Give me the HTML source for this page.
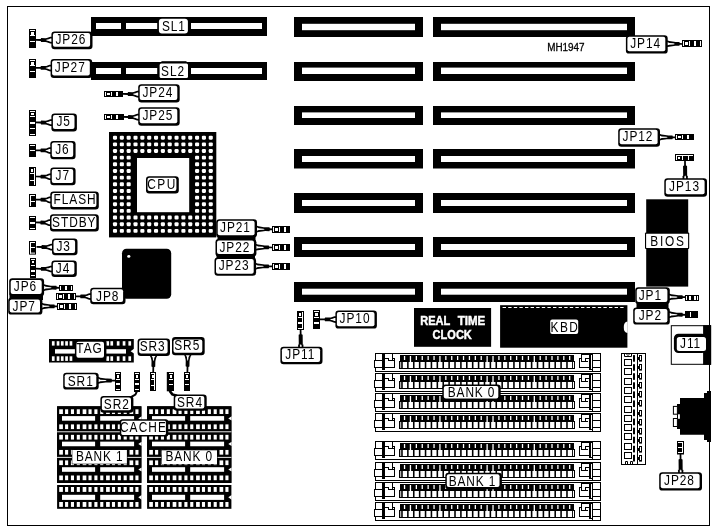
<!DOCTYPE html>
<html><head><meta charset="utf-8"><title>MH1947 motherboard layout</title>
<style>
html,body{margin:0;padding:0;background:#fff;}
svg{display:block;}
text{font-family:"Liberation Sans",sans-serif;}
svg{will-change:transform;}
</style></head>
<body>
<svg width="715" height="531" viewBox="0 0 715 531">
<rect x="0" y="0" width="715" height="531" fill="#fff"/>
<rect x="7.5" y="6.5" width="702" height="519" fill="none" stroke="#000" stroke-width="1"/>
<rect x="294.00" y="17.00" width="129.00" height="20.00" fill="#000" />
<rect x="302.00" y="23.80" width="113.00" height="6.40" fill="#fff" />
<rect x="433.00" y="17.00" width="202.00" height="20.00" fill="#000" />
<rect x="441.00" y="23.80" width="186.00" height="6.40" fill="#fff" />
<rect x="294.00" y="62.00" width="129.00" height="19.00" fill="#000" />
<rect x="302.00" y="67.60" width="113.00" height="6.40" fill="#fff" />
<rect x="433.00" y="62.00" width="202.00" height="19.00" fill="#000" />
<rect x="441.00" y="67.60" width="186.00" height="6.40" fill="#fff" />
<rect x="294.00" y="106.00" width="129.00" height="19.00" fill="#000" />
<rect x="302.00" y="112.40" width="113.00" height="5.60" fill="#fff" />
<rect x="433.00" y="106.00" width="202.00" height="19.00" fill="#000" />
<rect x="441.00" y="112.40" width="186.00" height="5.60" fill="#fff" />
<rect x="294.00" y="149.00" width="129.00" height="19.50" fill="#000" />
<rect x="302.00" y="156.00" width="113.00" height="6.00" fill="#fff" />
<rect x="433.00" y="149.00" width="202.00" height="19.50" fill="#000" />
<rect x="441.00" y="156.00" width="186.00" height="6.00" fill="#fff" />
<rect x="294.00" y="193.00" width="129.00" height="20.00" fill="#000" />
<rect x="302.00" y="200.00" width="113.00" height="6.00" fill="#fff" />
<rect x="433.00" y="193.00" width="202.00" height="20.00" fill="#000" />
<rect x="441.00" y="200.00" width="186.00" height="6.00" fill="#fff" />
<rect x="294.00" y="237.00" width="129.00" height="20.00" fill="#000" />
<rect x="302.00" y="244.00" width="113.00" height="6.00" fill="#fff" />
<rect x="433.00" y="237.00" width="202.00" height="20.00" fill="#000" />
<rect x="441.00" y="244.00" width="186.00" height="6.00" fill="#fff" />
<rect x="294.00" y="282.00" width="129.00" height="20.00" fill="#000" />
<rect x="302.00" y="288.70" width="113.00" height="6.00" fill="#fff" />
<rect x="433.00" y="282.00" width="202.00" height="20.00" fill="#000" />
<rect x="441.00" y="288.70" width="186.00" height="6.00" fill="#fff" />
<rect x="91.00" y="17.00" width="176.00" height="19.00" fill="#000" />
<rect x="96.00" y="23.00" width="25.00" height="6.00" fill="#fff" />
<rect x="126.00" y="23.00" width="136.00" height="6.00" fill="#fff" />
<rect x="91.00" y="62.00" width="176.00" height="18.00" fill="#000" />
<rect x="96.00" y="68.00" width="25.00" height="6.00" fill="#fff" />
<rect x="126.00" y="68.00" width="136.00" height="6.00" fill="#fff" />
<rect x="109.00" y="132.00" width="107.30" height="105.40" fill="#000" />
<rect x="112.95" y="135.75" width="4.1" height="3.9" rx="1.1" fill="#fff"/>
<rect x="112.95" y="142.41" width="4.1" height="3.9" rx="1.1" fill="#fff"/>
<rect x="112.95" y="149.06" width="4.1" height="3.9" rx="1.1" fill="#fff"/>
<rect x="112.95" y="155.72" width="4.1" height="3.9" rx="1.1" fill="#fff"/>
<rect x="112.95" y="162.37" width="4.1" height="3.9" rx="1.1" fill="#fff"/>
<rect x="112.95" y="169.03" width="4.1" height="3.9" rx="1.1" fill="#fff"/>
<rect x="112.95" y="175.68" width="4.1" height="3.9" rx="1.1" fill="#fff"/>
<rect x="112.95" y="182.34" width="4.1" height="3.9" rx="1.1" fill="#fff"/>
<rect x="112.95" y="188.99" width="4.1" height="3.9" rx="1.1" fill="#fff"/>
<rect x="112.95" y="195.65" width="4.1" height="3.9" rx="1.1" fill="#fff"/>
<rect x="112.95" y="202.30" width="4.1" height="3.9" rx="1.1" fill="#fff"/>
<rect x="112.95" y="208.95" width="4.1" height="3.9" rx="1.1" fill="#fff"/>
<rect x="112.95" y="215.61" width="4.1" height="3.9" rx="1.1" fill="#fff"/>
<rect x="112.95" y="222.26" width="4.1" height="3.9" rx="1.1" fill="#fff"/>
<rect x="112.95" y="228.92" width="4.1" height="3.9" rx="1.1" fill="#fff"/>
<rect x="119.79" y="135.75" width="4.1" height="3.9" rx="1.1" fill="#fff"/>
<rect x="119.79" y="142.41" width="4.1" height="3.9" rx="1.1" fill="#fff"/>
<rect x="119.79" y="149.06" width="4.1" height="3.9" rx="1.1" fill="#fff"/>
<rect x="119.79" y="155.72" width="4.1" height="3.9" rx="1.1" fill="#fff"/>
<rect x="119.79" y="162.37" width="4.1" height="3.9" rx="1.1" fill="#fff"/>
<rect x="119.79" y="169.03" width="4.1" height="3.9" rx="1.1" fill="#fff"/>
<rect x="119.79" y="175.68" width="4.1" height="3.9" rx="1.1" fill="#fff"/>
<rect x="119.79" y="182.34" width="4.1" height="3.9" rx="1.1" fill="#fff"/>
<rect x="119.79" y="188.99" width="4.1" height="3.9" rx="1.1" fill="#fff"/>
<rect x="119.79" y="195.65" width="4.1" height="3.9" rx="1.1" fill="#fff"/>
<rect x="119.79" y="202.30" width="4.1" height="3.9" rx="1.1" fill="#fff"/>
<rect x="119.79" y="208.95" width="4.1" height="3.9" rx="1.1" fill="#fff"/>
<rect x="119.79" y="215.61" width="4.1" height="3.9" rx="1.1" fill="#fff"/>
<rect x="119.79" y="222.26" width="4.1" height="3.9" rx="1.1" fill="#fff"/>
<rect x="119.79" y="228.92" width="4.1" height="3.9" rx="1.1" fill="#fff"/>
<rect x="126.63" y="135.75" width="4.1" height="3.9" rx="1.1" fill="#fff"/>
<rect x="126.63" y="142.41" width="4.1" height="3.9" rx="1.1" fill="#fff"/>
<rect x="126.63" y="149.06" width="4.1" height="3.9" rx="1.1" fill="#fff"/>
<rect x="126.63" y="155.72" width="4.1" height="3.9" rx="1.1" fill="#fff"/>
<rect x="126.63" y="162.37" width="4.1" height="3.9" rx="1.1" fill="#fff"/>
<rect x="126.63" y="169.03" width="4.1" height="3.9" rx="1.1" fill="#fff"/>
<rect x="126.63" y="175.68" width="4.1" height="3.9" rx="1.1" fill="#fff"/>
<rect x="126.63" y="182.34" width="4.1" height="3.9" rx="1.1" fill="#fff"/>
<rect x="126.63" y="188.99" width="4.1" height="3.9" rx="1.1" fill="#fff"/>
<rect x="126.63" y="195.65" width="4.1" height="3.9" rx="1.1" fill="#fff"/>
<rect x="126.63" y="202.30" width="4.1" height="3.9" rx="1.1" fill="#fff"/>
<rect x="126.63" y="208.95" width="4.1" height="3.9" rx="1.1" fill="#fff"/>
<rect x="126.63" y="215.61" width="4.1" height="3.9" rx="1.1" fill="#fff"/>
<rect x="126.63" y="222.26" width="4.1" height="3.9" rx="1.1" fill="#fff"/>
<rect x="126.63" y="228.92" width="4.1" height="3.9" rx="1.1" fill="#fff"/>
<rect x="133.47" y="135.75" width="4.1" height="3.9" rx="1.1" fill="#fff"/>
<rect x="133.47" y="142.41" width="4.1" height="3.9" rx="1.1" fill="#fff"/>
<rect x="133.47" y="149.06" width="4.1" height="3.9" rx="1.1" fill="#fff"/>
<rect x="133.47" y="215.61" width="4.1" height="3.9" rx="1.1" fill="#fff"/>
<rect x="133.47" y="222.26" width="4.1" height="3.9" rx="1.1" fill="#fff"/>
<rect x="133.47" y="228.92" width="4.1" height="3.9" rx="1.1" fill="#fff"/>
<rect x="140.31" y="135.75" width="4.1" height="3.9" rx="1.1" fill="#fff"/>
<rect x="140.31" y="142.41" width="4.1" height="3.9" rx="1.1" fill="#fff"/>
<rect x="140.31" y="149.06" width="4.1" height="3.9" rx="1.1" fill="#fff"/>
<rect x="140.31" y="215.61" width="4.1" height="3.9" rx="1.1" fill="#fff"/>
<rect x="140.31" y="222.26" width="4.1" height="3.9" rx="1.1" fill="#fff"/>
<rect x="140.31" y="228.92" width="4.1" height="3.9" rx="1.1" fill="#fff"/>
<rect x="147.15" y="135.75" width="4.1" height="3.9" rx="1.1" fill="#fff"/>
<rect x="147.15" y="142.41" width="4.1" height="3.9" rx="1.1" fill="#fff"/>
<rect x="147.15" y="149.06" width="4.1" height="3.9" rx="1.1" fill="#fff"/>
<rect x="147.15" y="215.61" width="4.1" height="3.9" rx="1.1" fill="#fff"/>
<rect x="147.15" y="222.26" width="4.1" height="3.9" rx="1.1" fill="#fff"/>
<rect x="147.15" y="228.92" width="4.1" height="3.9" rx="1.1" fill="#fff"/>
<rect x="153.99" y="135.75" width="4.1" height="3.9" rx="1.1" fill="#fff"/>
<rect x="153.99" y="142.41" width="4.1" height="3.9" rx="1.1" fill="#fff"/>
<rect x="153.99" y="149.06" width="4.1" height="3.9" rx="1.1" fill="#fff"/>
<rect x="153.99" y="215.61" width="4.1" height="3.9" rx="1.1" fill="#fff"/>
<rect x="153.99" y="222.26" width="4.1" height="3.9" rx="1.1" fill="#fff"/>
<rect x="153.99" y="228.92" width="4.1" height="3.9" rx="1.1" fill="#fff"/>
<rect x="160.83" y="135.75" width="4.1" height="3.9" rx="1.1" fill="#fff"/>
<rect x="160.83" y="142.41" width="4.1" height="3.9" rx="1.1" fill="#fff"/>
<rect x="160.83" y="149.06" width="4.1" height="3.9" rx="1.1" fill="#fff"/>
<rect x="160.83" y="215.61" width="4.1" height="3.9" rx="1.1" fill="#fff"/>
<rect x="160.83" y="222.26" width="4.1" height="3.9" rx="1.1" fill="#fff"/>
<rect x="160.83" y="228.92" width="4.1" height="3.9" rx="1.1" fill="#fff"/>
<rect x="167.67" y="135.75" width="4.1" height="3.9" rx="1.1" fill="#fff"/>
<rect x="167.67" y="142.41" width="4.1" height="3.9" rx="1.1" fill="#fff"/>
<rect x="167.67" y="149.06" width="4.1" height="3.9" rx="1.1" fill="#fff"/>
<rect x="167.67" y="215.61" width="4.1" height="3.9" rx="1.1" fill="#fff"/>
<rect x="167.67" y="222.26" width="4.1" height="3.9" rx="1.1" fill="#fff"/>
<rect x="167.67" y="228.92" width="4.1" height="3.9" rx="1.1" fill="#fff"/>
<rect x="174.51" y="135.75" width="4.1" height="3.9" rx="1.1" fill="#fff"/>
<rect x="174.51" y="142.41" width="4.1" height="3.9" rx="1.1" fill="#fff"/>
<rect x="174.51" y="149.06" width="4.1" height="3.9" rx="1.1" fill="#fff"/>
<rect x="174.51" y="215.61" width="4.1" height="3.9" rx="1.1" fill="#fff"/>
<rect x="174.51" y="222.26" width="4.1" height="3.9" rx="1.1" fill="#fff"/>
<rect x="174.51" y="228.92" width="4.1" height="3.9" rx="1.1" fill="#fff"/>
<rect x="181.35" y="135.75" width="4.1" height="3.9" rx="1.1" fill="#fff"/>
<rect x="181.35" y="142.41" width="4.1" height="3.9" rx="1.1" fill="#fff"/>
<rect x="181.35" y="149.06" width="4.1" height="3.9" rx="1.1" fill="#fff"/>
<rect x="181.35" y="215.61" width="4.1" height="3.9" rx="1.1" fill="#fff"/>
<rect x="181.35" y="222.26" width="4.1" height="3.9" rx="1.1" fill="#fff"/>
<rect x="181.35" y="228.92" width="4.1" height="3.9" rx="1.1" fill="#fff"/>
<rect x="188.19" y="135.75" width="4.1" height="3.9" rx="1.1" fill="#fff"/>
<rect x="188.19" y="142.41" width="4.1" height="3.9" rx="1.1" fill="#fff"/>
<rect x="188.19" y="149.06" width="4.1" height="3.9" rx="1.1" fill="#fff"/>
<rect x="188.19" y="215.61" width="4.1" height="3.9" rx="1.1" fill="#fff"/>
<rect x="188.19" y="222.26" width="4.1" height="3.9" rx="1.1" fill="#fff"/>
<rect x="188.19" y="228.92" width="4.1" height="3.9" rx="1.1" fill="#fff"/>
<rect x="195.03" y="135.75" width="4.1" height="3.9" rx="1.1" fill="#fff"/>
<rect x="195.03" y="142.41" width="4.1" height="3.9" rx="1.1" fill="#fff"/>
<rect x="195.03" y="149.06" width="4.1" height="3.9" rx="1.1" fill="#fff"/>
<rect x="195.03" y="155.72" width="4.1" height="3.9" rx="1.1" fill="#fff"/>
<rect x="195.03" y="162.37" width="4.1" height="3.9" rx="1.1" fill="#fff"/>
<rect x="195.03" y="169.03" width="4.1" height="3.9" rx="1.1" fill="#fff"/>
<rect x="195.03" y="175.68" width="4.1" height="3.9" rx="1.1" fill="#fff"/>
<rect x="195.03" y="182.34" width="4.1" height="3.9" rx="1.1" fill="#fff"/>
<rect x="195.03" y="188.99" width="4.1" height="3.9" rx="1.1" fill="#fff"/>
<rect x="195.03" y="195.65" width="4.1" height="3.9" rx="1.1" fill="#fff"/>
<rect x="195.03" y="202.30" width="4.1" height="3.9" rx="1.1" fill="#fff"/>
<rect x="195.03" y="208.95" width="4.1" height="3.9" rx="1.1" fill="#fff"/>
<rect x="195.03" y="215.61" width="4.1" height="3.9" rx="1.1" fill="#fff"/>
<rect x="195.03" y="222.26" width="4.1" height="3.9" rx="1.1" fill="#fff"/>
<rect x="195.03" y="228.92" width="4.1" height="3.9" rx="1.1" fill="#fff"/>
<rect x="201.87" y="135.75" width="4.1" height="3.9" rx="1.1" fill="#fff"/>
<rect x="201.87" y="142.41" width="4.1" height="3.9" rx="1.1" fill="#fff"/>
<rect x="201.87" y="149.06" width="4.1" height="3.9" rx="1.1" fill="#fff"/>
<rect x="201.87" y="155.72" width="4.1" height="3.9" rx="1.1" fill="#fff"/>
<rect x="201.87" y="162.37" width="4.1" height="3.9" rx="1.1" fill="#fff"/>
<rect x="201.87" y="169.03" width="4.1" height="3.9" rx="1.1" fill="#fff"/>
<rect x="201.87" y="175.68" width="4.1" height="3.9" rx="1.1" fill="#fff"/>
<rect x="201.87" y="182.34" width="4.1" height="3.9" rx="1.1" fill="#fff"/>
<rect x="201.87" y="188.99" width="4.1" height="3.9" rx="1.1" fill="#fff"/>
<rect x="201.87" y="195.65" width="4.1" height="3.9" rx="1.1" fill="#fff"/>
<rect x="201.87" y="202.30" width="4.1" height="3.9" rx="1.1" fill="#fff"/>
<rect x="201.87" y="208.95" width="4.1" height="3.9" rx="1.1" fill="#fff"/>
<rect x="201.87" y="215.61" width="4.1" height="3.9" rx="1.1" fill="#fff"/>
<rect x="201.87" y="222.26" width="4.1" height="3.9" rx="1.1" fill="#fff"/>
<rect x="201.87" y="228.92" width="4.1" height="3.9" rx="1.1" fill="#fff"/>
<rect x="208.71" y="135.75" width="4.1" height="3.9" rx="1.1" fill="#fff"/>
<rect x="208.71" y="142.41" width="4.1" height="3.9" rx="1.1" fill="#fff"/>
<rect x="208.71" y="149.06" width="4.1" height="3.9" rx="1.1" fill="#fff"/>
<rect x="208.71" y="155.72" width="4.1" height="3.9" rx="1.1" fill="#fff"/>
<rect x="208.71" y="162.37" width="4.1" height="3.9" rx="1.1" fill="#fff"/>
<rect x="208.71" y="169.03" width="4.1" height="3.9" rx="1.1" fill="#fff"/>
<rect x="208.71" y="175.68" width="4.1" height="3.9" rx="1.1" fill="#fff"/>
<rect x="208.71" y="182.34" width="4.1" height="3.9" rx="1.1" fill="#fff"/>
<rect x="208.71" y="188.99" width="4.1" height="3.9" rx="1.1" fill="#fff"/>
<rect x="208.71" y="195.65" width="4.1" height="3.9" rx="1.1" fill="#fff"/>
<rect x="208.71" y="202.30" width="4.1" height="3.9" rx="1.1" fill="#fff"/>
<rect x="208.71" y="208.95" width="4.1" height="3.9" rx="1.1" fill="#fff"/>
<rect x="208.71" y="215.61" width="4.1" height="3.9" rx="1.1" fill="#fff"/>
<rect x="208.71" y="222.26" width="4.1" height="3.9" rx="1.1" fill="#fff"/>
<rect x="208.71" y="228.92" width="4.1" height="3.9" rx="1.1" fill="#fff"/>
<rect x="137.00" y="158.00" width="52.20" height="54.20" fill="#fff" />
<rect x="122" y="248.7" width="49.2" height="50" rx="4.5" fill="#000"/>
<ellipse cx="128.8" cy="256.4" rx="1.6" ry="1.3" fill="#fff"/>
<rect x="646.20" y="199.30" width="42.00" height="87.30" fill="#000" />
<rect x="414.00" y="308.00" width="77.10" height="38.80" fill="#000" />
<g stroke="#fff" stroke-width="0.45">
<text transform="translate(435.20,325.00) scale(0.92,1)" text-anchor="middle" font-size="12" letter-spacing="0" fill="#fff" font-weight="bold">REAL</text>
<text transform="translate(471.40,325.00) scale(0.96,1)" text-anchor="middle" font-size="12" letter-spacing="0" fill="#fff" font-weight="bold">TIME</text>
<text transform="translate(452.20,338.80) scale(0.92,1)" text-anchor="middle" font-size="12" letter-spacing="0" fill="#fff" font-weight="bold">CLOCK</text>
</g>
<rect x="500.10" y="305.20" width="127.30" height="42.50" fill="#000" />
<line x1="502.6" y1="307.5" x2="625.5" y2="307.5" stroke="#fff" stroke-width="1" stroke-dasharray="3.4 2.2"/>
<path d="M627.6 321.5 Q623.6 322 623.8 327.2 Q623.6 332.5 627.6 333 Z" fill="#fff"/>
<rect x="550.2" y="319.4" width="28" height="14.6" rx="2" fill="#fff"/>
<text transform="translate(564.88,331.90) scale(0.85,1)" text-anchor="middle" font-size="14" letter-spacing="1.6" fill="#000" font-weight="normal">KBD</text>
<g stroke="#000" stroke-width="0.3">
<text transform="translate(565.90,50.80) scale(0.9,1)" text-anchor="middle" font-size="11" letter-spacing="0" fill="#000" font-weight="normal">MH1947</text>
</g>
<rect x="49.00" y="339.00" width="84.80" height="23.50" fill="#000" />
<rect x="51.90" y="341.20" width="2.70" height="4.40" fill="#fff" />
<rect x="51.90" y="356.30" width="2.70" height="4.60" fill="#fff" />
<rect x="56.70" y="341.20" width="2.70" height="4.40" fill="#fff" />
<rect x="56.70" y="356.30" width="2.70" height="4.60" fill="#fff" />
<rect x="60.90" y="341.20" width="2.70" height="4.40" fill="#fff" />
<rect x="60.90" y="356.30" width="2.70" height="4.60" fill="#fff" />
<rect x="65.20" y="341.20" width="2.70" height="4.40" fill="#fff" />
<rect x="65.20" y="356.30" width="2.70" height="4.60" fill="#fff" />
<rect x="69.60" y="341.20" width="2.70" height="4.40" fill="#fff" />
<rect x="69.60" y="356.30" width="2.70" height="4.60" fill="#fff" />
<rect x="106.40" y="341.20" width="2.70" height="4.40" fill="#fff" />
<rect x="106.40" y="356.30" width="2.70" height="4.60" fill="#fff" />
<rect x="110.40" y="341.20" width="2.70" height="4.40" fill="#fff" />
<rect x="110.40" y="356.30" width="2.70" height="4.60" fill="#fff" />
<rect x="116.80" y="341.20" width="2.70" height="4.40" fill="#fff" />
<rect x="116.80" y="356.30" width="2.70" height="4.60" fill="#fff" />
<rect x="122.70" y="341.20" width="2.70" height="4.40" fill="#fff" />
<rect x="122.70" y="356.30" width="2.70" height="4.60" fill="#fff" />
<rect x="128.40" y="341.20" width="2.70" height="4.40" fill="#fff" />
<rect x="128.40" y="356.30" width="2.70" height="4.60" fill="#fff" />
<rect x="55.00" y="349.20" width="71.00" height="4.40" fill="#fff" />
<polygon points="134,348.8 130.6,351.2 134,353.4" fill="#fff"/>
<rect x="57.10" y="406.30" width="84.30" height="76.70" fill="#000" />
<rect x="57.10" y="406.30" width="84.30" height="25.50" fill="#000" />
<rect x="59.20" y="409.30" width="3.70" height="4.70" fill="#fff" />
<rect x="59.20" y="424.40" width="3.70" height="4.70" fill="#fff" />
<rect x="65.06" y="409.30" width="3.10" height="4.70" fill="#fff" />
<rect x="65.06" y="424.40" width="3.10" height="4.70" fill="#fff" />
<rect x="70.92" y="409.30" width="3.10" height="4.70" fill="#fff" />
<rect x="70.92" y="424.40" width="3.10" height="4.70" fill="#fff" />
<rect x="76.78" y="409.30" width="3.10" height="4.70" fill="#fff" />
<rect x="76.78" y="424.40" width="3.10" height="4.70" fill="#fff" />
<rect x="82.64" y="409.30" width="3.70" height="4.70" fill="#fff" />
<rect x="82.64" y="424.40" width="3.70" height="4.70" fill="#fff" />
<rect x="88.50" y="409.30" width="3.10" height="4.70" fill="#fff" />
<rect x="88.50" y="424.40" width="3.10" height="4.70" fill="#fff" />
<rect x="94.36" y="409.30" width="3.10" height="4.70" fill="#fff" />
<rect x="94.36" y="424.40" width="3.10" height="4.70" fill="#fff" />
<rect x="100.22" y="409.30" width="3.10" height="4.70" fill="#fff" />
<rect x="100.22" y="424.40" width="3.10" height="4.70" fill="#fff" />
<rect x="106.08" y="409.30" width="3.70" height="4.70" fill="#fff" />
<rect x="106.08" y="424.40" width="3.70" height="4.70" fill="#fff" />
<rect x="111.94" y="409.30" width="3.10" height="4.70" fill="#fff" />
<rect x="111.94" y="424.40" width="3.10" height="4.70" fill="#fff" />
<rect x="117.80" y="409.30" width="3.10" height="4.70" fill="#fff" />
<rect x="117.80" y="424.40" width="3.10" height="4.70" fill="#fff" />
<rect x="123.66" y="409.30" width="3.10" height="4.70" fill="#fff" />
<rect x="123.66" y="424.40" width="3.10" height="4.70" fill="#fff" />
<rect x="129.52" y="409.30" width="3.70" height="4.70" fill="#fff" />
<rect x="129.52" y="424.40" width="3.70" height="4.70" fill="#fff" />
<rect x="135.38" y="409.30" width="3.10" height="4.70" fill="#fff" />
<rect x="135.38" y="424.40" width="3.10" height="4.70" fill="#fff" />
<rect x="62.00" y="416.10" width="33.10" height="4.60" fill="#fff" />
<rect x="100.20" y="416.10" width="33.90" height="4.60" fill="#fff" />
<polygon points="141.60,416.30 138.30,418.40 141.60,420.50" fill="#fff"/>
<rect x="57.10" y="431.85" width="84.30" height="25.50" fill="#000" />
<rect x="59.20" y="434.85" width="3.70" height="4.70" fill="#fff" />
<rect x="59.20" y="449.95" width="3.70" height="4.70" fill="#fff" />
<rect x="65.06" y="434.85" width="3.10" height="4.70" fill="#fff" />
<rect x="65.06" y="449.95" width="3.10" height="4.70" fill="#fff" />
<rect x="70.92" y="434.85" width="3.10" height="4.70" fill="#fff" />
<rect x="70.92" y="449.95" width="3.10" height="4.70" fill="#fff" />
<rect x="76.78" y="434.85" width="3.10" height="4.70" fill="#fff" />
<rect x="76.78" y="449.95" width="3.10" height="4.70" fill="#fff" />
<rect x="82.64" y="434.85" width="3.70" height="4.70" fill="#fff" />
<rect x="82.64" y="449.95" width="3.70" height="4.70" fill="#fff" />
<rect x="88.50" y="434.85" width="3.10" height="4.70" fill="#fff" />
<rect x="88.50" y="449.95" width="3.10" height="4.70" fill="#fff" />
<rect x="94.36" y="434.85" width="3.10" height="4.70" fill="#fff" />
<rect x="94.36" y="449.95" width="3.10" height="4.70" fill="#fff" />
<rect x="100.22" y="434.85" width="3.10" height="4.70" fill="#fff" />
<rect x="100.22" y="449.95" width="3.10" height="4.70" fill="#fff" />
<rect x="106.08" y="434.85" width="3.70" height="4.70" fill="#fff" />
<rect x="106.08" y="449.95" width="3.70" height="4.70" fill="#fff" />
<rect x="111.94" y="434.85" width="3.10" height="4.70" fill="#fff" />
<rect x="111.94" y="449.95" width="3.10" height="4.70" fill="#fff" />
<rect x="117.80" y="434.85" width="3.10" height="4.70" fill="#fff" />
<rect x="117.80" y="449.95" width="3.10" height="4.70" fill="#fff" />
<rect x="123.66" y="434.85" width="3.10" height="4.70" fill="#fff" />
<rect x="123.66" y="449.95" width="3.10" height="4.70" fill="#fff" />
<rect x="129.52" y="434.85" width="3.70" height="4.70" fill="#fff" />
<rect x="129.52" y="449.95" width="3.70" height="4.70" fill="#fff" />
<rect x="135.38" y="434.85" width="3.10" height="4.70" fill="#fff" />
<rect x="135.38" y="449.95" width="3.10" height="4.70" fill="#fff" />
<rect x="62.00" y="441.65" width="33.10" height="4.60" fill="#fff" />
<rect x="100.20" y="441.65" width="33.90" height="4.60" fill="#fff" />
<polygon points="141.60,441.85 138.30,443.95 141.60,446.05" fill="#fff"/>
<rect x="57.10" y="457.40" width="84.30" height="25.50" fill="#000" />
<rect x="59.20" y="460.40" width="3.70" height="4.70" fill="#fff" />
<rect x="59.20" y="475.50" width="3.70" height="4.70" fill="#fff" />
<rect x="65.06" y="460.40" width="3.10" height="4.70" fill="#fff" />
<rect x="65.06" y="475.50" width="3.10" height="4.70" fill="#fff" />
<rect x="70.92" y="460.40" width="3.10" height="4.70" fill="#fff" />
<rect x="70.92" y="475.50" width="3.10" height="4.70" fill="#fff" />
<rect x="76.78" y="460.40" width="3.10" height="4.70" fill="#fff" />
<rect x="76.78" y="475.50" width="3.10" height="4.70" fill="#fff" />
<rect x="82.64" y="460.40" width="3.70" height="4.70" fill="#fff" />
<rect x="82.64" y="475.50" width="3.70" height="4.70" fill="#fff" />
<rect x="88.50" y="460.40" width="3.10" height="4.70" fill="#fff" />
<rect x="88.50" y="475.50" width="3.10" height="4.70" fill="#fff" />
<rect x="94.36" y="460.40" width="3.10" height="4.70" fill="#fff" />
<rect x="94.36" y="475.50" width="3.10" height="4.70" fill="#fff" />
<rect x="100.22" y="460.40" width="3.10" height="4.70" fill="#fff" />
<rect x="100.22" y="475.50" width="3.10" height="4.70" fill="#fff" />
<rect x="106.08" y="460.40" width="3.70" height="4.70" fill="#fff" />
<rect x="106.08" y="475.50" width="3.70" height="4.70" fill="#fff" />
<rect x="111.94" y="460.40" width="3.10" height="4.70" fill="#fff" />
<rect x="111.94" y="475.50" width="3.10" height="4.70" fill="#fff" />
<rect x="117.80" y="460.40" width="3.10" height="4.70" fill="#fff" />
<rect x="117.80" y="475.50" width="3.10" height="4.70" fill="#fff" />
<rect x="123.66" y="460.40" width="3.10" height="4.70" fill="#fff" />
<rect x="123.66" y="475.50" width="3.10" height="4.70" fill="#fff" />
<rect x="129.52" y="460.40" width="3.70" height="4.70" fill="#fff" />
<rect x="129.52" y="475.50" width="3.70" height="4.70" fill="#fff" />
<rect x="135.38" y="460.40" width="3.10" height="4.70" fill="#fff" />
<rect x="135.38" y="475.50" width="3.10" height="4.70" fill="#fff" />
<rect x="62.00" y="467.20" width="33.10" height="4.60" fill="#fff" />
<rect x="100.20" y="467.20" width="33.90" height="4.60" fill="#fff" />
<polygon points="141.60,467.40 138.30,469.50 141.60,471.60" fill="#fff"/>
<rect x="57.10" y="431.35" width="84.30" height="0.90" fill="#fff" />
<rect x="57.10" y="456.90" width="84.30" height="0.90" fill="#fff" />
<rect x="57.10" y="485.00" width="84.30" height="23.80" fill="#000" />
<rect x="59.20" y="487.00" width="3.70" height="4.90" fill="#fff" />
<rect x="59.20" y="502.00" width="3.70" height="4.90" fill="#fff" />
<rect x="65.06" y="487.00" width="3.10" height="4.90" fill="#fff" />
<rect x="65.06" y="502.00" width="3.10" height="4.90" fill="#fff" />
<rect x="70.92" y="487.00" width="3.10" height="4.90" fill="#fff" />
<rect x="70.92" y="502.00" width="3.10" height="4.90" fill="#fff" />
<rect x="76.78" y="487.00" width="3.10" height="4.90" fill="#fff" />
<rect x="76.78" y="502.00" width="3.10" height="4.90" fill="#fff" />
<rect x="82.64" y="487.00" width="3.70" height="4.90" fill="#fff" />
<rect x="82.64" y="502.00" width="3.70" height="4.90" fill="#fff" />
<rect x="88.50" y="487.00" width="3.10" height="4.90" fill="#fff" />
<rect x="88.50" y="502.00" width="3.10" height="4.90" fill="#fff" />
<rect x="94.36" y="487.00" width="3.10" height="4.90" fill="#fff" />
<rect x="94.36" y="502.00" width="3.10" height="4.90" fill="#fff" />
<rect x="100.22" y="487.00" width="3.10" height="4.90" fill="#fff" />
<rect x="100.22" y="502.00" width="3.10" height="4.90" fill="#fff" />
<rect x="106.08" y="487.00" width="3.70" height="4.90" fill="#fff" />
<rect x="106.08" y="502.00" width="3.70" height="4.90" fill="#fff" />
<rect x="111.94" y="487.00" width="3.10" height="4.90" fill="#fff" />
<rect x="111.94" y="502.00" width="3.10" height="4.90" fill="#fff" />
<rect x="117.80" y="487.00" width="3.10" height="4.90" fill="#fff" />
<rect x="117.80" y="502.00" width="3.10" height="4.90" fill="#fff" />
<rect x="123.66" y="487.00" width="3.10" height="4.90" fill="#fff" />
<rect x="123.66" y="502.00" width="3.10" height="4.90" fill="#fff" />
<rect x="129.52" y="487.00" width="3.70" height="4.90" fill="#fff" />
<rect x="129.52" y="502.00" width="3.70" height="4.90" fill="#fff" />
<rect x="135.38" y="487.00" width="3.10" height="4.90" fill="#fff" />
<rect x="135.38" y="502.00" width="3.10" height="4.90" fill="#fff" />
<rect x="62.00" y="494.80" width="33.10" height="5.10" fill="#fff" />
<rect x="100.20" y="494.80" width="33.90" height="5.10" fill="#fff" />
<polygon points="141.60,495.00 138.30,497.35 141.60,499.70" fill="#fff"/>
<rect x="147.10" y="406.30" width="84.30" height="76.70" fill="#000" />
<rect x="147.10" y="406.30" width="84.30" height="25.50" fill="#000" />
<rect x="149.20" y="409.30" width="3.70" height="4.70" fill="#fff" />
<rect x="149.20" y="424.40" width="3.70" height="4.70" fill="#fff" />
<rect x="155.06" y="409.30" width="3.10" height="4.70" fill="#fff" />
<rect x="155.06" y="424.40" width="3.10" height="4.70" fill="#fff" />
<rect x="160.92" y="409.30" width="3.10" height="4.70" fill="#fff" />
<rect x="160.92" y="424.40" width="3.10" height="4.70" fill="#fff" />
<rect x="166.78" y="409.30" width="3.10" height="4.70" fill="#fff" />
<rect x="166.78" y="424.40" width="3.10" height="4.70" fill="#fff" />
<rect x="172.64" y="409.30" width="3.70" height="4.70" fill="#fff" />
<rect x="172.64" y="424.40" width="3.70" height="4.70" fill="#fff" />
<rect x="178.50" y="409.30" width="3.10" height="4.70" fill="#fff" />
<rect x="178.50" y="424.40" width="3.10" height="4.70" fill="#fff" />
<rect x="184.36" y="409.30" width="3.10" height="4.70" fill="#fff" />
<rect x="184.36" y="424.40" width="3.10" height="4.70" fill="#fff" />
<rect x="190.22" y="409.30" width="3.10" height="4.70" fill="#fff" />
<rect x="190.22" y="424.40" width="3.10" height="4.70" fill="#fff" />
<rect x="196.08" y="409.30" width="3.70" height="4.70" fill="#fff" />
<rect x="196.08" y="424.40" width="3.70" height="4.70" fill="#fff" />
<rect x="201.94" y="409.30" width="3.10" height="4.70" fill="#fff" />
<rect x="201.94" y="424.40" width="3.10" height="4.70" fill="#fff" />
<rect x="207.80" y="409.30" width="3.10" height="4.70" fill="#fff" />
<rect x="207.80" y="424.40" width="3.10" height="4.70" fill="#fff" />
<rect x="213.66" y="409.30" width="3.10" height="4.70" fill="#fff" />
<rect x="213.66" y="424.40" width="3.10" height="4.70" fill="#fff" />
<rect x="219.52" y="409.30" width="3.70" height="4.70" fill="#fff" />
<rect x="219.52" y="424.40" width="3.70" height="4.70" fill="#fff" />
<rect x="225.38" y="409.30" width="3.10" height="4.70" fill="#fff" />
<rect x="225.38" y="424.40" width="3.10" height="4.70" fill="#fff" />
<rect x="152.00" y="416.10" width="33.10" height="4.60" fill="#fff" />
<rect x="190.20" y="416.10" width="33.90" height="4.60" fill="#fff" />
<polygon points="231.60,416.30 228.30,418.40 231.60,420.50" fill="#fff"/>
<rect x="147.10" y="431.85" width="84.30" height="25.50" fill="#000" />
<rect x="149.20" y="434.85" width="3.70" height="4.70" fill="#fff" />
<rect x="149.20" y="449.95" width="3.70" height="4.70" fill="#fff" />
<rect x="155.06" y="434.85" width="3.10" height="4.70" fill="#fff" />
<rect x="155.06" y="449.95" width="3.10" height="4.70" fill="#fff" />
<rect x="160.92" y="434.85" width="3.10" height="4.70" fill="#fff" />
<rect x="160.92" y="449.95" width="3.10" height="4.70" fill="#fff" />
<rect x="166.78" y="434.85" width="3.10" height="4.70" fill="#fff" />
<rect x="166.78" y="449.95" width="3.10" height="4.70" fill="#fff" />
<rect x="172.64" y="434.85" width="3.70" height="4.70" fill="#fff" />
<rect x="172.64" y="449.95" width="3.70" height="4.70" fill="#fff" />
<rect x="178.50" y="434.85" width="3.10" height="4.70" fill="#fff" />
<rect x="178.50" y="449.95" width="3.10" height="4.70" fill="#fff" />
<rect x="184.36" y="434.85" width="3.10" height="4.70" fill="#fff" />
<rect x="184.36" y="449.95" width="3.10" height="4.70" fill="#fff" />
<rect x="190.22" y="434.85" width="3.10" height="4.70" fill="#fff" />
<rect x="190.22" y="449.95" width="3.10" height="4.70" fill="#fff" />
<rect x="196.08" y="434.85" width="3.70" height="4.70" fill="#fff" />
<rect x="196.08" y="449.95" width="3.70" height="4.70" fill="#fff" />
<rect x="201.94" y="434.85" width="3.10" height="4.70" fill="#fff" />
<rect x="201.94" y="449.95" width="3.10" height="4.70" fill="#fff" />
<rect x="207.80" y="434.85" width="3.10" height="4.70" fill="#fff" />
<rect x="207.80" y="449.95" width="3.10" height="4.70" fill="#fff" />
<rect x="213.66" y="434.85" width="3.10" height="4.70" fill="#fff" />
<rect x="213.66" y="449.95" width="3.10" height="4.70" fill="#fff" />
<rect x="219.52" y="434.85" width="3.70" height="4.70" fill="#fff" />
<rect x="219.52" y="449.95" width="3.70" height="4.70" fill="#fff" />
<rect x="225.38" y="434.85" width="3.10" height="4.70" fill="#fff" />
<rect x="225.38" y="449.95" width="3.10" height="4.70" fill="#fff" />
<rect x="152.00" y="441.65" width="33.10" height="4.60" fill="#fff" />
<rect x="190.20" y="441.65" width="33.90" height="4.60" fill="#fff" />
<polygon points="231.60,441.85 228.30,443.95 231.60,446.05" fill="#fff"/>
<rect x="147.10" y="457.40" width="84.30" height="25.50" fill="#000" />
<rect x="149.20" y="460.40" width="3.70" height="4.70" fill="#fff" />
<rect x="149.20" y="475.50" width="3.70" height="4.70" fill="#fff" />
<rect x="155.06" y="460.40" width="3.10" height="4.70" fill="#fff" />
<rect x="155.06" y="475.50" width="3.10" height="4.70" fill="#fff" />
<rect x="160.92" y="460.40" width="3.10" height="4.70" fill="#fff" />
<rect x="160.92" y="475.50" width="3.10" height="4.70" fill="#fff" />
<rect x="166.78" y="460.40" width="3.10" height="4.70" fill="#fff" />
<rect x="166.78" y="475.50" width="3.10" height="4.70" fill="#fff" />
<rect x="172.64" y="460.40" width="3.70" height="4.70" fill="#fff" />
<rect x="172.64" y="475.50" width="3.70" height="4.70" fill="#fff" />
<rect x="178.50" y="460.40" width="3.10" height="4.70" fill="#fff" />
<rect x="178.50" y="475.50" width="3.10" height="4.70" fill="#fff" />
<rect x="184.36" y="460.40" width="3.10" height="4.70" fill="#fff" />
<rect x="184.36" y="475.50" width="3.10" height="4.70" fill="#fff" />
<rect x="190.22" y="460.40" width="3.10" height="4.70" fill="#fff" />
<rect x="190.22" y="475.50" width="3.10" height="4.70" fill="#fff" />
<rect x="196.08" y="460.40" width="3.70" height="4.70" fill="#fff" />
<rect x="196.08" y="475.50" width="3.70" height="4.70" fill="#fff" />
<rect x="201.94" y="460.40" width="3.10" height="4.70" fill="#fff" />
<rect x="201.94" y="475.50" width="3.10" height="4.70" fill="#fff" />
<rect x="207.80" y="460.40" width="3.10" height="4.70" fill="#fff" />
<rect x="207.80" y="475.50" width="3.10" height="4.70" fill="#fff" />
<rect x="213.66" y="460.40" width="3.10" height="4.70" fill="#fff" />
<rect x="213.66" y="475.50" width="3.10" height="4.70" fill="#fff" />
<rect x="219.52" y="460.40" width="3.70" height="4.70" fill="#fff" />
<rect x="219.52" y="475.50" width="3.70" height="4.70" fill="#fff" />
<rect x="225.38" y="460.40" width="3.10" height="4.70" fill="#fff" />
<rect x="225.38" y="475.50" width="3.10" height="4.70" fill="#fff" />
<rect x="152.00" y="467.20" width="33.10" height="4.60" fill="#fff" />
<rect x="190.20" y="467.20" width="33.90" height="4.60" fill="#fff" />
<polygon points="231.60,467.40 228.30,469.50 231.60,471.60" fill="#fff"/>
<rect x="147.10" y="431.35" width="84.30" height="0.90" fill="#fff" />
<rect x="147.10" y="456.90" width="84.30" height="0.90" fill="#fff" />
<rect x="147.10" y="485.00" width="84.30" height="23.80" fill="#000" />
<rect x="149.20" y="487.00" width="3.70" height="4.90" fill="#fff" />
<rect x="149.20" y="502.00" width="3.70" height="4.90" fill="#fff" />
<rect x="155.06" y="487.00" width="3.10" height="4.90" fill="#fff" />
<rect x="155.06" y="502.00" width="3.10" height="4.90" fill="#fff" />
<rect x="160.92" y="487.00" width="3.10" height="4.90" fill="#fff" />
<rect x="160.92" y="502.00" width="3.10" height="4.90" fill="#fff" />
<rect x="166.78" y="487.00" width="3.10" height="4.90" fill="#fff" />
<rect x="166.78" y="502.00" width="3.10" height="4.90" fill="#fff" />
<rect x="172.64" y="487.00" width="3.70" height="4.90" fill="#fff" />
<rect x="172.64" y="502.00" width="3.70" height="4.90" fill="#fff" />
<rect x="178.50" y="487.00" width="3.10" height="4.90" fill="#fff" />
<rect x="178.50" y="502.00" width="3.10" height="4.90" fill="#fff" />
<rect x="184.36" y="487.00" width="3.10" height="4.90" fill="#fff" />
<rect x="184.36" y="502.00" width="3.10" height="4.90" fill="#fff" />
<rect x="190.22" y="487.00" width="3.10" height="4.90" fill="#fff" />
<rect x="190.22" y="502.00" width="3.10" height="4.90" fill="#fff" />
<rect x="196.08" y="487.00" width="3.70" height="4.90" fill="#fff" />
<rect x="196.08" y="502.00" width="3.70" height="4.90" fill="#fff" />
<rect x="201.94" y="487.00" width="3.10" height="4.90" fill="#fff" />
<rect x="201.94" y="502.00" width="3.10" height="4.90" fill="#fff" />
<rect x="207.80" y="487.00" width="3.10" height="4.90" fill="#fff" />
<rect x="207.80" y="502.00" width="3.10" height="4.90" fill="#fff" />
<rect x="213.66" y="487.00" width="3.10" height="4.90" fill="#fff" />
<rect x="213.66" y="502.00" width="3.10" height="4.90" fill="#fff" />
<rect x="219.52" y="487.00" width="3.70" height="4.90" fill="#fff" />
<rect x="219.52" y="502.00" width="3.70" height="4.90" fill="#fff" />
<rect x="225.38" y="487.00" width="3.10" height="4.90" fill="#fff" />
<rect x="225.38" y="502.00" width="3.10" height="4.90" fill="#fff" />
<rect x="152.00" y="494.80" width="33.10" height="5.10" fill="#fff" />
<rect x="190.20" y="494.80" width="33.90" height="5.10" fill="#fff" />
<polygon points="231.60,495.00 228.30,497.35 231.60,499.70" fill="#fff"/>
<rect x="375.00" y="353.00" width="226.00" height="19.00" fill="#000" />
<rect x="376.00" y="354.00" width="224.00" height="17.00" fill="#fff" />
<rect x="374.00" y="360.00" width="9.00" height="8.00" fill="#000" />
<rect x="375.00" y="361.00" width="7.00" height="6.00" fill="#fff" />
<rect x="382.00" y="354.00" width="3.00" height="16.00" fill="#000" />
<rect x="392.00" y="353.00" width="1.00" height="8.00" fill="#000" />
<rect x="385.00" y="358.00" width="4.00" height="1.00" fill="#000" />
<rect x="388.00" y="358.00" width="1.00" height="3.00" fill="#000" />
<rect x="388.00" y="360.00" width="6.00" height="1.00" fill="#000" />
<rect x="392.00" y="358.00" width="3.00" height="1.00" fill="#000" />
<rect x="394.00" y="358.00" width="1.00" height="10.00" fill="#000" />
<rect x="385.00" y="367.00" width="10.00" height="1.00" fill="#000" />
<rect x="592.00" y="353.00" width="1.00" height="19.00" fill="#000" />
<rect x="592.00" y="360.00" width="9.00" height="1.00" fill="#000" />
<rect x="592.00" y="367.00" width="9.00" height="1.00" fill="#000" />
<rect x="589.00" y="353.00" width="2.00" height="17.00" fill="#000" />
<rect x="589.00" y="369.00" width="4.00" height="1.00" fill="#000" />
<rect x="581.00" y="354.00" width="11.00" height="1.00" fill="#000" />
<rect x="581.00" y="353.00" width="1.00" height="9.00" fill="#000" />
<rect x="585.00" y="358.00" width="4.00" height="1.00" fill="#000" />
<rect x="585.00" y="358.00" width="1.00" height="4.00" fill="#000" />
<rect x="581.00" y="361.00" width="7.00" height="1.00" fill="#000" />
<rect x="579.00" y="358.00" width="3.00" height="1.00" fill="#000" />
<rect x="579.00" y="358.00" width="1.00" height="10.00" fill="#000" />
<rect x="579.00" y="367.00" width="11.00" height="1.00" fill="#000" />
<rect x="400.00" y="355.00" width="174.00" height="7.00" fill="#000" />
<rect x="399.00" y="361.00" width="176.00" height="8.00" fill="#000" />
<rect x="402.76" y="362.00" width="4.32" height="6.00" fill="#fff" />
<rect x="403.90" y="356.00" width="1.30" height="4.00" fill="#fff" />
<rect x="408.65" y="362.00" width="4.32" height="6.00" fill="#fff" />
<rect x="409.80" y="356.00" width="1.30" height="6.50" fill="#fff" />
<rect x="414.55" y="362.00" width="4.32" height="6.00" fill="#fff" />
<rect x="415.70" y="356.00" width="1.30" height="4.00" fill="#fff" />
<rect x="420.44" y="362.00" width="4.32" height="6.00" fill="#fff" />
<rect x="421.59" y="356.00" width="1.30" height="4.00" fill="#fff" />
<rect x="426.33" y="362.00" width="4.32" height="6.00" fill="#fff" />
<rect x="427.49" y="356.00" width="1.30" height="4.00" fill="#fff" />
<rect x="432.22" y="362.00" width="4.32" height="6.00" fill="#fff" />
<rect x="433.39" y="356.00" width="1.30" height="4.00" fill="#fff" />
<rect x="438.12" y="362.00" width="4.32" height="6.00" fill="#fff" />
<rect x="439.29" y="356.00" width="1.30" height="6.50" fill="#fff" />
<rect x="444.01" y="362.00" width="4.32" height="6.00" fill="#fff" />
<rect x="445.19" y="356.00" width="1.30" height="4.00" fill="#fff" />
<rect x="449.90" y="362.00" width="4.32" height="6.00" fill="#fff" />
<rect x="451.08" y="356.00" width="1.30" height="4.00" fill="#fff" />
<rect x="455.80" y="362.00" width="4.32" height="6.00" fill="#fff" />
<rect x="456.98" y="356.00" width="1.30" height="4.00" fill="#fff" />
<rect x="461.69" y="362.00" width="4.32" height="6.00" fill="#fff" />
<rect x="462.88" y="356.00" width="1.30" height="4.00" fill="#fff" />
<rect x="467.58" y="362.00" width="4.32" height="6.00" fill="#fff" />
<rect x="468.78" y="356.00" width="1.30" height="4.00" fill="#fff" />
<rect x="473.48" y="362.00" width="4.32" height="6.00" fill="#fff" />
<rect x="474.68" y="356.00" width="1.30" height="4.00" fill="#fff" />
<rect x="479.37" y="362.00" width="4.32" height="6.00" fill="#fff" />
<rect x="480.57" y="356.00" width="1.30" height="4.00" fill="#fff" />
<rect x="485.26" y="362.00" width="4.32" height="6.00" fill="#fff" />
<rect x="486.47" y="356.00" width="1.30" height="6.50" fill="#fff" />
<rect x="491.15" y="362.00" width="4.32" height="6.00" fill="#fff" />
<rect x="492.37" y="356.00" width="1.30" height="6.50" fill="#fff" />
<rect x="497.05" y="362.00" width="4.32" height="6.00" fill="#fff" />
<rect x="498.27" y="356.00" width="1.30" height="4.00" fill="#fff" />
<rect x="502.94" y="362.00" width="4.32" height="6.00" fill="#fff" />
<rect x="504.17" y="356.00" width="1.30" height="4.00" fill="#fff" />
<rect x="508.83" y="362.00" width="4.32" height="6.00" fill="#fff" />
<rect x="510.06" y="356.00" width="1.30" height="4.00" fill="#fff" />
<rect x="514.73" y="362.00" width="4.32" height="6.00" fill="#fff" />
<rect x="515.96" y="356.00" width="1.30" height="4.00" fill="#fff" />
<rect x="520.62" y="362.00" width="4.32" height="6.00" fill="#fff" />
<rect x="521.86" y="356.00" width="1.30" height="4.00" fill="#fff" />
<rect x="526.51" y="362.00" width="4.32" height="6.00" fill="#fff" />
<rect x="527.76" y="356.00" width="1.30" height="4.00" fill="#fff" />
<rect x="532.41" y="362.00" width="4.32" height="6.00" fill="#fff" />
<rect x="533.66" y="356.00" width="1.30" height="6.50" fill="#fff" />
<rect x="538.30" y="362.00" width="4.32" height="6.00" fill="#fff" />
<rect x="539.55" y="356.00" width="1.30" height="4.00" fill="#fff" />
<rect x="544.19" y="362.00" width="4.32" height="6.00" fill="#fff" />
<rect x="545.45" y="356.00" width="1.30" height="4.00" fill="#fff" />
<rect x="550.09" y="362.00" width="4.32" height="6.00" fill="#fff" />
<rect x="551.35" y="356.00" width="1.30" height="4.00" fill="#fff" />
<rect x="555.98" y="362.00" width="4.32" height="6.00" fill="#fff" />
<rect x="557.25" y="356.00" width="1.30" height="4.00" fill="#fff" />
<rect x="561.87" y="362.00" width="4.32" height="6.00" fill="#fff" />
<rect x="563.15" y="356.00" width="1.30" height="4.00" fill="#fff" />
<rect x="567.76" y="362.00" width="4.32" height="6.00" fill="#fff" />
<rect x="569.04" y="356.00" width="1.30" height="4.00" fill="#fff" />
<rect x="400.30" y="362.00" width="0.90" height="6.00" fill="#fff" />
<rect x="573.00" y="362.00" width="1.00" height="6.00" fill="#fff" />
<rect x="375.00" y="373.00" width="226.00" height="19.00" fill="#000" />
<rect x="376.00" y="374.00" width="224.00" height="17.00" fill="#fff" />
<rect x="374.00" y="380.00" width="9.00" height="8.00" fill="#000" />
<rect x="375.00" y="381.00" width="7.00" height="6.00" fill="#fff" />
<rect x="382.00" y="374.00" width="3.00" height="16.00" fill="#000" />
<rect x="392.00" y="373.00" width="1.00" height="8.00" fill="#000" />
<rect x="385.00" y="378.00" width="4.00" height="1.00" fill="#000" />
<rect x="388.00" y="378.00" width="1.00" height="3.00" fill="#000" />
<rect x="388.00" y="380.00" width="6.00" height="1.00" fill="#000" />
<rect x="392.00" y="378.00" width="3.00" height="1.00" fill="#000" />
<rect x="394.00" y="378.00" width="1.00" height="10.00" fill="#000" />
<rect x="385.00" y="387.00" width="10.00" height="1.00" fill="#000" />
<rect x="592.00" y="373.00" width="1.00" height="19.00" fill="#000" />
<rect x="592.00" y="380.00" width="9.00" height="1.00" fill="#000" />
<rect x="592.00" y="387.00" width="9.00" height="1.00" fill="#000" />
<rect x="589.00" y="373.00" width="2.00" height="17.00" fill="#000" />
<rect x="589.00" y="389.00" width="4.00" height="1.00" fill="#000" />
<rect x="581.00" y="374.00" width="11.00" height="1.00" fill="#000" />
<rect x="581.00" y="373.00" width="1.00" height="9.00" fill="#000" />
<rect x="585.00" y="378.00" width="4.00" height="1.00" fill="#000" />
<rect x="585.00" y="378.00" width="1.00" height="4.00" fill="#000" />
<rect x="581.00" y="381.00" width="7.00" height="1.00" fill="#000" />
<rect x="579.00" y="378.00" width="3.00" height="1.00" fill="#000" />
<rect x="579.00" y="378.00" width="1.00" height="10.00" fill="#000" />
<rect x="579.00" y="387.00" width="11.00" height="1.00" fill="#000" />
<rect x="400.00" y="375.00" width="174.00" height="7.00" fill="#000" />
<rect x="399.00" y="381.00" width="176.00" height="8.00" fill="#000" />
<rect x="402.76" y="382.00" width="4.32" height="6.00" fill="#fff" />
<rect x="403.90" y="376.00" width="1.30" height="4.00" fill="#fff" />
<rect x="408.65" y="382.00" width="4.32" height="6.00" fill="#fff" />
<rect x="409.80" y="376.00" width="1.30" height="6.50" fill="#fff" />
<rect x="414.55" y="382.00" width="4.32" height="6.00" fill="#fff" />
<rect x="415.70" y="376.00" width="1.30" height="4.00" fill="#fff" />
<rect x="420.44" y="382.00" width="4.32" height="6.00" fill="#fff" />
<rect x="421.59" y="376.00" width="1.30" height="4.00" fill="#fff" />
<rect x="426.33" y="382.00" width="4.32" height="6.00" fill="#fff" />
<rect x="427.49" y="376.00" width="1.30" height="4.00" fill="#fff" />
<rect x="432.22" y="382.00" width="4.32" height="6.00" fill="#fff" />
<rect x="433.39" y="376.00" width="1.30" height="4.00" fill="#fff" />
<rect x="438.12" y="382.00" width="4.32" height="6.00" fill="#fff" />
<rect x="439.29" y="376.00" width="1.30" height="6.50" fill="#fff" />
<rect x="444.01" y="382.00" width="4.32" height="6.00" fill="#fff" />
<rect x="445.19" y="376.00" width="1.30" height="4.00" fill="#fff" />
<rect x="449.90" y="382.00" width="4.32" height="6.00" fill="#fff" />
<rect x="451.08" y="376.00" width="1.30" height="4.00" fill="#fff" />
<rect x="455.80" y="382.00" width="4.32" height="6.00" fill="#fff" />
<rect x="456.98" y="376.00" width="1.30" height="4.00" fill="#fff" />
<rect x="461.69" y="382.00" width="4.32" height="6.00" fill="#fff" />
<rect x="462.88" y="376.00" width="1.30" height="4.00" fill="#fff" />
<rect x="467.58" y="382.00" width="4.32" height="6.00" fill="#fff" />
<rect x="468.78" y="376.00" width="1.30" height="4.00" fill="#fff" />
<rect x="473.48" y="382.00" width="4.32" height="6.00" fill="#fff" />
<rect x="474.68" y="376.00" width="1.30" height="4.00" fill="#fff" />
<rect x="479.37" y="382.00" width="4.32" height="6.00" fill="#fff" />
<rect x="480.57" y="376.00" width="1.30" height="4.00" fill="#fff" />
<rect x="485.26" y="382.00" width="4.32" height="6.00" fill="#fff" />
<rect x="486.47" y="376.00" width="1.30" height="6.50" fill="#fff" />
<rect x="491.15" y="382.00" width="4.32" height="6.00" fill="#fff" />
<rect x="492.37" y="376.00" width="1.30" height="6.50" fill="#fff" />
<rect x="497.05" y="382.00" width="4.32" height="6.00" fill="#fff" />
<rect x="498.27" y="376.00" width="1.30" height="4.00" fill="#fff" />
<rect x="502.94" y="382.00" width="4.32" height="6.00" fill="#fff" />
<rect x="504.17" y="376.00" width="1.30" height="4.00" fill="#fff" />
<rect x="508.83" y="382.00" width="4.32" height="6.00" fill="#fff" />
<rect x="510.06" y="376.00" width="1.30" height="4.00" fill="#fff" />
<rect x="514.73" y="382.00" width="4.32" height="6.00" fill="#fff" />
<rect x="515.96" y="376.00" width="1.30" height="4.00" fill="#fff" />
<rect x="520.62" y="382.00" width="4.32" height="6.00" fill="#fff" />
<rect x="521.86" y="376.00" width="1.30" height="4.00" fill="#fff" />
<rect x="526.51" y="382.00" width="4.32" height="6.00" fill="#fff" />
<rect x="527.76" y="376.00" width="1.30" height="4.00" fill="#fff" />
<rect x="532.41" y="382.00" width="4.32" height="6.00" fill="#fff" />
<rect x="533.66" y="376.00" width="1.30" height="6.50" fill="#fff" />
<rect x="538.30" y="382.00" width="4.32" height="6.00" fill="#fff" />
<rect x="539.55" y="376.00" width="1.30" height="4.00" fill="#fff" />
<rect x="544.19" y="382.00" width="4.32" height="6.00" fill="#fff" />
<rect x="545.45" y="376.00" width="1.30" height="4.00" fill="#fff" />
<rect x="550.09" y="382.00" width="4.32" height="6.00" fill="#fff" />
<rect x="551.35" y="376.00" width="1.30" height="4.00" fill="#fff" />
<rect x="555.98" y="382.00" width="4.32" height="6.00" fill="#fff" />
<rect x="557.25" y="376.00" width="1.30" height="4.00" fill="#fff" />
<rect x="561.87" y="382.00" width="4.32" height="6.00" fill="#fff" />
<rect x="563.15" y="376.00" width="1.30" height="4.00" fill="#fff" />
<rect x="567.76" y="382.00" width="4.32" height="6.00" fill="#fff" />
<rect x="569.04" y="376.00" width="1.30" height="4.00" fill="#fff" />
<rect x="400.30" y="382.00" width="0.90" height="6.00" fill="#fff" />
<rect x="573.00" y="382.00" width="1.00" height="6.00" fill="#fff" />
<rect x="375.00" y="393.00" width="226.00" height="19.00" fill="#000" />
<rect x="376.00" y="394.00" width="224.00" height="17.00" fill="#fff" />
<rect x="374.00" y="400.00" width="9.00" height="8.00" fill="#000" />
<rect x="375.00" y="401.00" width="7.00" height="6.00" fill="#fff" />
<rect x="382.00" y="394.00" width="3.00" height="16.00" fill="#000" />
<rect x="392.00" y="393.00" width="1.00" height="8.00" fill="#000" />
<rect x="385.00" y="398.00" width="4.00" height="1.00" fill="#000" />
<rect x="388.00" y="398.00" width="1.00" height="3.00" fill="#000" />
<rect x="388.00" y="400.00" width="6.00" height="1.00" fill="#000" />
<rect x="392.00" y="398.00" width="3.00" height="1.00" fill="#000" />
<rect x="394.00" y="398.00" width="1.00" height="10.00" fill="#000" />
<rect x="385.00" y="407.00" width="10.00" height="1.00" fill="#000" />
<rect x="592.00" y="393.00" width="1.00" height="19.00" fill="#000" />
<rect x="592.00" y="400.00" width="9.00" height="1.00" fill="#000" />
<rect x="592.00" y="407.00" width="9.00" height="1.00" fill="#000" />
<rect x="589.00" y="393.00" width="2.00" height="17.00" fill="#000" />
<rect x="589.00" y="409.00" width="4.00" height="1.00" fill="#000" />
<rect x="581.00" y="394.00" width="11.00" height="1.00" fill="#000" />
<rect x="581.00" y="393.00" width="1.00" height="9.00" fill="#000" />
<rect x="585.00" y="398.00" width="4.00" height="1.00" fill="#000" />
<rect x="585.00" y="398.00" width="1.00" height="4.00" fill="#000" />
<rect x="581.00" y="401.00" width="7.00" height="1.00" fill="#000" />
<rect x="579.00" y="398.00" width="3.00" height="1.00" fill="#000" />
<rect x="579.00" y="398.00" width="1.00" height="10.00" fill="#000" />
<rect x="579.00" y="407.00" width="11.00" height="1.00" fill="#000" />
<rect x="400.00" y="395.00" width="174.00" height="7.00" fill="#000" />
<rect x="399.00" y="401.00" width="176.00" height="8.00" fill="#000" />
<rect x="402.76" y="402.00" width="4.32" height="6.00" fill="#fff" />
<rect x="403.90" y="396.00" width="1.30" height="4.00" fill="#fff" />
<rect x="408.65" y="402.00" width="4.32" height="6.00" fill="#fff" />
<rect x="409.80" y="396.00" width="1.30" height="6.50" fill="#fff" />
<rect x="414.55" y="402.00" width="4.32" height="6.00" fill="#fff" />
<rect x="415.70" y="396.00" width="1.30" height="4.00" fill="#fff" />
<rect x="420.44" y="402.00" width="4.32" height="6.00" fill="#fff" />
<rect x="421.59" y="396.00" width="1.30" height="4.00" fill="#fff" />
<rect x="426.33" y="402.00" width="4.32" height="6.00" fill="#fff" />
<rect x="427.49" y="396.00" width="1.30" height="4.00" fill="#fff" />
<rect x="432.22" y="402.00" width="4.32" height="6.00" fill="#fff" />
<rect x="433.39" y="396.00" width="1.30" height="4.00" fill="#fff" />
<rect x="438.12" y="402.00" width="4.32" height="6.00" fill="#fff" />
<rect x="439.29" y="396.00" width="1.30" height="6.50" fill="#fff" />
<rect x="444.01" y="402.00" width="4.32" height="6.00" fill="#fff" />
<rect x="445.19" y="396.00" width="1.30" height="4.00" fill="#fff" />
<rect x="449.90" y="402.00" width="4.32" height="6.00" fill="#fff" />
<rect x="451.08" y="396.00" width="1.30" height="4.00" fill="#fff" />
<rect x="455.80" y="402.00" width="4.32" height="6.00" fill="#fff" />
<rect x="456.98" y="396.00" width="1.30" height="4.00" fill="#fff" />
<rect x="461.69" y="402.00" width="4.32" height="6.00" fill="#fff" />
<rect x="462.88" y="396.00" width="1.30" height="4.00" fill="#fff" />
<rect x="467.58" y="402.00" width="4.32" height="6.00" fill="#fff" />
<rect x="468.78" y="396.00" width="1.30" height="4.00" fill="#fff" />
<rect x="473.48" y="402.00" width="4.32" height="6.00" fill="#fff" />
<rect x="474.68" y="396.00" width="1.30" height="4.00" fill="#fff" />
<rect x="479.37" y="402.00" width="4.32" height="6.00" fill="#fff" />
<rect x="480.57" y="396.00" width="1.30" height="4.00" fill="#fff" />
<rect x="485.26" y="402.00" width="4.32" height="6.00" fill="#fff" />
<rect x="486.47" y="396.00" width="1.30" height="6.50" fill="#fff" />
<rect x="491.15" y="402.00" width="4.32" height="6.00" fill="#fff" />
<rect x="492.37" y="396.00" width="1.30" height="6.50" fill="#fff" />
<rect x="497.05" y="402.00" width="4.32" height="6.00" fill="#fff" />
<rect x="498.27" y="396.00" width="1.30" height="4.00" fill="#fff" />
<rect x="502.94" y="402.00" width="4.32" height="6.00" fill="#fff" />
<rect x="504.17" y="396.00" width="1.30" height="4.00" fill="#fff" />
<rect x="508.83" y="402.00" width="4.32" height="6.00" fill="#fff" />
<rect x="510.06" y="396.00" width="1.30" height="4.00" fill="#fff" />
<rect x="514.73" y="402.00" width="4.32" height="6.00" fill="#fff" />
<rect x="515.96" y="396.00" width="1.30" height="4.00" fill="#fff" />
<rect x="520.62" y="402.00" width="4.32" height="6.00" fill="#fff" />
<rect x="521.86" y="396.00" width="1.30" height="4.00" fill="#fff" />
<rect x="526.51" y="402.00" width="4.32" height="6.00" fill="#fff" />
<rect x="527.76" y="396.00" width="1.30" height="4.00" fill="#fff" />
<rect x="532.41" y="402.00" width="4.32" height="6.00" fill="#fff" />
<rect x="533.66" y="396.00" width="1.30" height="6.50" fill="#fff" />
<rect x="538.30" y="402.00" width="4.32" height="6.00" fill="#fff" />
<rect x="539.55" y="396.00" width="1.30" height="4.00" fill="#fff" />
<rect x="544.19" y="402.00" width="4.32" height="6.00" fill="#fff" />
<rect x="545.45" y="396.00" width="1.30" height="4.00" fill="#fff" />
<rect x="550.09" y="402.00" width="4.32" height="6.00" fill="#fff" />
<rect x="551.35" y="396.00" width="1.30" height="4.00" fill="#fff" />
<rect x="555.98" y="402.00" width="4.32" height="6.00" fill="#fff" />
<rect x="557.25" y="396.00" width="1.30" height="4.00" fill="#fff" />
<rect x="561.87" y="402.00" width="4.32" height="6.00" fill="#fff" />
<rect x="563.15" y="396.00" width="1.30" height="4.00" fill="#fff" />
<rect x="567.76" y="402.00" width="4.32" height="6.00" fill="#fff" />
<rect x="569.04" y="396.00" width="1.30" height="4.00" fill="#fff" />
<rect x="400.30" y="402.00" width="0.90" height="6.00" fill="#fff" />
<rect x="573.00" y="402.00" width="1.00" height="6.00" fill="#fff" />
<rect x="375.00" y="413.00" width="226.00" height="19.00" fill="#000" />
<rect x="376.00" y="414.00" width="224.00" height="17.00" fill="#fff" />
<rect x="374.00" y="420.00" width="9.00" height="8.00" fill="#000" />
<rect x="375.00" y="421.00" width="7.00" height="6.00" fill="#fff" />
<rect x="382.00" y="414.00" width="3.00" height="16.00" fill="#000" />
<rect x="392.00" y="413.00" width="1.00" height="8.00" fill="#000" />
<rect x="385.00" y="418.00" width="4.00" height="1.00" fill="#000" />
<rect x="388.00" y="418.00" width="1.00" height="3.00" fill="#000" />
<rect x="388.00" y="420.00" width="6.00" height="1.00" fill="#000" />
<rect x="392.00" y="418.00" width="3.00" height="1.00" fill="#000" />
<rect x="394.00" y="418.00" width="1.00" height="10.00" fill="#000" />
<rect x="385.00" y="427.00" width="10.00" height="1.00" fill="#000" />
<rect x="592.00" y="413.00" width="1.00" height="19.00" fill="#000" />
<rect x="592.00" y="420.00" width="9.00" height="1.00" fill="#000" />
<rect x="592.00" y="427.00" width="9.00" height="1.00" fill="#000" />
<rect x="589.00" y="413.00" width="2.00" height="17.00" fill="#000" />
<rect x="589.00" y="429.00" width="4.00" height="1.00" fill="#000" />
<rect x="581.00" y="414.00" width="11.00" height="1.00" fill="#000" />
<rect x="581.00" y="413.00" width="1.00" height="9.00" fill="#000" />
<rect x="585.00" y="418.00" width="4.00" height="1.00" fill="#000" />
<rect x="585.00" y="418.00" width="1.00" height="4.00" fill="#000" />
<rect x="581.00" y="421.00" width="7.00" height="1.00" fill="#000" />
<rect x="579.00" y="418.00" width="3.00" height="1.00" fill="#000" />
<rect x="579.00" y="418.00" width="1.00" height="10.00" fill="#000" />
<rect x="579.00" y="427.00" width="11.00" height="1.00" fill="#000" />
<rect x="400.00" y="415.00" width="174.00" height="7.00" fill="#000" />
<rect x="399.00" y="421.00" width="176.00" height="8.00" fill="#000" />
<rect x="402.76" y="422.00" width="4.32" height="6.00" fill="#fff" />
<rect x="403.90" y="416.00" width="1.30" height="4.00" fill="#fff" />
<rect x="408.65" y="422.00" width="4.32" height="6.00" fill="#fff" />
<rect x="409.80" y="416.00" width="1.30" height="6.50" fill="#fff" />
<rect x="414.55" y="422.00" width="4.32" height="6.00" fill="#fff" />
<rect x="415.70" y="416.00" width="1.30" height="4.00" fill="#fff" />
<rect x="420.44" y="422.00" width="4.32" height="6.00" fill="#fff" />
<rect x="421.59" y="416.00" width="1.30" height="4.00" fill="#fff" />
<rect x="426.33" y="422.00" width="4.32" height="6.00" fill="#fff" />
<rect x="427.49" y="416.00" width="1.30" height="4.00" fill="#fff" />
<rect x="432.22" y="422.00" width="4.32" height="6.00" fill="#fff" />
<rect x="433.39" y="416.00" width="1.30" height="4.00" fill="#fff" />
<rect x="438.12" y="422.00" width="4.32" height="6.00" fill="#fff" />
<rect x="439.29" y="416.00" width="1.30" height="6.50" fill="#fff" />
<rect x="444.01" y="422.00" width="4.32" height="6.00" fill="#fff" />
<rect x="445.19" y="416.00" width="1.30" height="4.00" fill="#fff" />
<rect x="449.90" y="422.00" width="4.32" height="6.00" fill="#fff" />
<rect x="451.08" y="416.00" width="1.30" height="4.00" fill="#fff" />
<rect x="455.80" y="422.00" width="4.32" height="6.00" fill="#fff" />
<rect x="456.98" y="416.00" width="1.30" height="4.00" fill="#fff" />
<rect x="461.69" y="422.00" width="4.32" height="6.00" fill="#fff" />
<rect x="462.88" y="416.00" width="1.30" height="4.00" fill="#fff" />
<rect x="467.58" y="422.00" width="4.32" height="6.00" fill="#fff" />
<rect x="468.78" y="416.00" width="1.30" height="4.00" fill="#fff" />
<rect x="473.48" y="422.00" width="4.32" height="6.00" fill="#fff" />
<rect x="474.68" y="416.00" width="1.30" height="4.00" fill="#fff" />
<rect x="479.37" y="422.00" width="4.32" height="6.00" fill="#fff" />
<rect x="480.57" y="416.00" width="1.30" height="4.00" fill="#fff" />
<rect x="485.26" y="422.00" width="4.32" height="6.00" fill="#fff" />
<rect x="486.47" y="416.00" width="1.30" height="6.50" fill="#fff" />
<rect x="491.15" y="422.00" width="4.32" height="6.00" fill="#fff" />
<rect x="492.37" y="416.00" width="1.30" height="6.50" fill="#fff" />
<rect x="497.05" y="422.00" width="4.32" height="6.00" fill="#fff" />
<rect x="498.27" y="416.00" width="1.30" height="4.00" fill="#fff" />
<rect x="502.94" y="422.00" width="4.32" height="6.00" fill="#fff" />
<rect x="504.17" y="416.00" width="1.30" height="4.00" fill="#fff" />
<rect x="508.83" y="422.00" width="4.32" height="6.00" fill="#fff" />
<rect x="510.06" y="416.00" width="1.30" height="4.00" fill="#fff" />
<rect x="514.73" y="422.00" width="4.32" height="6.00" fill="#fff" />
<rect x="515.96" y="416.00" width="1.30" height="4.00" fill="#fff" />
<rect x="520.62" y="422.00" width="4.32" height="6.00" fill="#fff" />
<rect x="521.86" y="416.00" width="1.30" height="4.00" fill="#fff" />
<rect x="526.51" y="422.00" width="4.32" height="6.00" fill="#fff" />
<rect x="527.76" y="416.00" width="1.30" height="4.00" fill="#fff" />
<rect x="532.41" y="422.00" width="4.32" height="6.00" fill="#fff" />
<rect x="533.66" y="416.00" width="1.30" height="6.50" fill="#fff" />
<rect x="538.30" y="422.00" width="4.32" height="6.00" fill="#fff" />
<rect x="539.55" y="416.00" width="1.30" height="4.00" fill="#fff" />
<rect x="544.19" y="422.00" width="4.32" height="6.00" fill="#fff" />
<rect x="545.45" y="416.00" width="1.30" height="4.00" fill="#fff" />
<rect x="550.09" y="422.00" width="4.32" height="6.00" fill="#fff" />
<rect x="551.35" y="416.00" width="1.30" height="4.00" fill="#fff" />
<rect x="555.98" y="422.00" width="4.32" height="6.00" fill="#fff" />
<rect x="557.25" y="416.00" width="1.30" height="4.00" fill="#fff" />
<rect x="561.87" y="422.00" width="4.32" height="6.00" fill="#fff" />
<rect x="563.15" y="416.00" width="1.30" height="4.00" fill="#fff" />
<rect x="567.76" y="422.00" width="4.32" height="6.00" fill="#fff" />
<rect x="569.04" y="416.00" width="1.30" height="4.00" fill="#fff" />
<rect x="400.30" y="422.00" width="0.90" height="6.00" fill="#fff" />
<rect x="573.00" y="422.00" width="1.00" height="6.00" fill="#fff" />
<rect x="375.00" y="441.00" width="226.00" height="19.00" fill="#000" />
<rect x="376.00" y="442.00" width="224.00" height="17.00" fill="#fff" />
<rect x="374.00" y="448.00" width="9.00" height="8.00" fill="#000" />
<rect x="375.00" y="449.00" width="7.00" height="6.00" fill="#fff" />
<rect x="382.00" y="442.00" width="3.00" height="16.00" fill="#000" />
<rect x="392.00" y="441.00" width="1.00" height="8.00" fill="#000" />
<rect x="385.00" y="446.00" width="4.00" height="1.00" fill="#000" />
<rect x="388.00" y="446.00" width="1.00" height="3.00" fill="#000" />
<rect x="388.00" y="448.00" width="6.00" height="1.00" fill="#000" />
<rect x="392.00" y="446.00" width="3.00" height="1.00" fill="#000" />
<rect x="394.00" y="446.00" width="1.00" height="10.00" fill="#000" />
<rect x="385.00" y="455.00" width="10.00" height="1.00" fill="#000" />
<rect x="592.00" y="441.00" width="1.00" height="19.00" fill="#000" />
<rect x="592.00" y="448.00" width="9.00" height="1.00" fill="#000" />
<rect x="592.00" y="455.00" width="9.00" height="1.00" fill="#000" />
<rect x="589.00" y="441.00" width="2.00" height="17.00" fill="#000" />
<rect x="589.00" y="457.00" width="4.00" height="1.00" fill="#000" />
<rect x="581.00" y="442.00" width="11.00" height="1.00" fill="#000" />
<rect x="581.00" y="441.00" width="1.00" height="9.00" fill="#000" />
<rect x="585.00" y="446.00" width="4.00" height="1.00" fill="#000" />
<rect x="585.00" y="446.00" width="1.00" height="4.00" fill="#000" />
<rect x="581.00" y="449.00" width="7.00" height="1.00" fill="#000" />
<rect x="579.00" y="446.00" width="3.00" height="1.00" fill="#000" />
<rect x="579.00" y="446.00" width="1.00" height="10.00" fill="#000" />
<rect x="579.00" y="455.00" width="11.00" height="1.00" fill="#000" />
<rect x="400.00" y="443.00" width="174.00" height="7.00" fill="#000" />
<rect x="399.00" y="449.00" width="176.00" height="8.00" fill="#000" />
<rect x="402.76" y="450.00" width="4.32" height="6.00" fill="#fff" />
<rect x="403.90" y="444.00" width="1.30" height="4.00" fill="#fff" />
<rect x="408.65" y="450.00" width="4.32" height="6.00" fill="#fff" />
<rect x="409.80" y="444.00" width="1.30" height="6.50" fill="#fff" />
<rect x="414.55" y="450.00" width="4.32" height="6.00" fill="#fff" />
<rect x="415.70" y="444.00" width="1.30" height="4.00" fill="#fff" />
<rect x="420.44" y="450.00" width="4.32" height="6.00" fill="#fff" />
<rect x="421.59" y="444.00" width="1.30" height="4.00" fill="#fff" />
<rect x="426.33" y="450.00" width="4.32" height="6.00" fill="#fff" />
<rect x="427.49" y="444.00" width="1.30" height="4.00" fill="#fff" />
<rect x="432.22" y="450.00" width="4.32" height="6.00" fill="#fff" />
<rect x="433.39" y="444.00" width="1.30" height="4.00" fill="#fff" />
<rect x="438.12" y="450.00" width="4.32" height="6.00" fill="#fff" />
<rect x="439.29" y="444.00" width="1.30" height="6.50" fill="#fff" />
<rect x="444.01" y="450.00" width="4.32" height="6.00" fill="#fff" />
<rect x="445.19" y="444.00" width="1.30" height="4.00" fill="#fff" />
<rect x="449.90" y="450.00" width="4.32" height="6.00" fill="#fff" />
<rect x="451.08" y="444.00" width="1.30" height="4.00" fill="#fff" />
<rect x="455.80" y="450.00" width="4.32" height="6.00" fill="#fff" />
<rect x="456.98" y="444.00" width="1.30" height="4.00" fill="#fff" />
<rect x="461.69" y="450.00" width="4.32" height="6.00" fill="#fff" />
<rect x="462.88" y="444.00" width="1.30" height="4.00" fill="#fff" />
<rect x="467.58" y="450.00" width="4.32" height="6.00" fill="#fff" />
<rect x="468.78" y="444.00" width="1.30" height="4.00" fill="#fff" />
<rect x="473.48" y="450.00" width="4.32" height="6.00" fill="#fff" />
<rect x="474.68" y="444.00" width="1.30" height="4.00" fill="#fff" />
<rect x="479.37" y="450.00" width="4.32" height="6.00" fill="#fff" />
<rect x="480.57" y="444.00" width="1.30" height="4.00" fill="#fff" />
<rect x="485.26" y="450.00" width="4.32" height="6.00" fill="#fff" />
<rect x="486.47" y="444.00" width="1.30" height="6.50" fill="#fff" />
<rect x="491.15" y="450.00" width="4.32" height="6.00" fill="#fff" />
<rect x="492.37" y="444.00" width="1.30" height="6.50" fill="#fff" />
<rect x="497.05" y="450.00" width="4.32" height="6.00" fill="#fff" />
<rect x="498.27" y="444.00" width="1.30" height="4.00" fill="#fff" />
<rect x="502.94" y="450.00" width="4.32" height="6.00" fill="#fff" />
<rect x="504.17" y="444.00" width="1.30" height="4.00" fill="#fff" />
<rect x="508.83" y="450.00" width="4.32" height="6.00" fill="#fff" />
<rect x="510.06" y="444.00" width="1.30" height="4.00" fill="#fff" />
<rect x="514.73" y="450.00" width="4.32" height="6.00" fill="#fff" />
<rect x="515.96" y="444.00" width="1.30" height="4.00" fill="#fff" />
<rect x="520.62" y="450.00" width="4.32" height="6.00" fill="#fff" />
<rect x="521.86" y="444.00" width="1.30" height="4.00" fill="#fff" />
<rect x="526.51" y="450.00" width="4.32" height="6.00" fill="#fff" />
<rect x="527.76" y="444.00" width="1.30" height="4.00" fill="#fff" />
<rect x="532.41" y="450.00" width="4.32" height="6.00" fill="#fff" />
<rect x="533.66" y="444.00" width="1.30" height="6.50" fill="#fff" />
<rect x="538.30" y="450.00" width="4.32" height="6.00" fill="#fff" />
<rect x="539.55" y="444.00" width="1.30" height="4.00" fill="#fff" />
<rect x="544.19" y="450.00" width="4.32" height="6.00" fill="#fff" />
<rect x="545.45" y="444.00" width="1.30" height="4.00" fill="#fff" />
<rect x="550.09" y="450.00" width="4.32" height="6.00" fill="#fff" />
<rect x="551.35" y="444.00" width="1.30" height="4.00" fill="#fff" />
<rect x="555.98" y="450.00" width="4.32" height="6.00" fill="#fff" />
<rect x="557.25" y="444.00" width="1.30" height="4.00" fill="#fff" />
<rect x="561.87" y="450.00" width="4.32" height="6.00" fill="#fff" />
<rect x="563.15" y="444.00" width="1.30" height="4.00" fill="#fff" />
<rect x="567.76" y="450.00" width="4.32" height="6.00" fill="#fff" />
<rect x="569.04" y="444.00" width="1.30" height="4.00" fill="#fff" />
<rect x="400.30" y="450.00" width="0.90" height="6.00" fill="#fff" />
<rect x="573.00" y="450.00" width="1.00" height="6.00" fill="#fff" />
<rect x="375.00" y="462.00" width="226.00" height="19.00" fill="#000" />
<rect x="376.00" y="463.00" width="224.00" height="17.00" fill="#fff" />
<rect x="374.00" y="469.00" width="9.00" height="8.00" fill="#000" />
<rect x="375.00" y="470.00" width="7.00" height="6.00" fill="#fff" />
<rect x="382.00" y="463.00" width="3.00" height="16.00" fill="#000" />
<rect x="392.00" y="462.00" width="1.00" height="8.00" fill="#000" />
<rect x="385.00" y="467.00" width="4.00" height="1.00" fill="#000" />
<rect x="388.00" y="467.00" width="1.00" height="3.00" fill="#000" />
<rect x="388.00" y="469.00" width="6.00" height="1.00" fill="#000" />
<rect x="392.00" y="467.00" width="3.00" height="1.00" fill="#000" />
<rect x="394.00" y="467.00" width="1.00" height="10.00" fill="#000" />
<rect x="385.00" y="476.00" width="10.00" height="1.00" fill="#000" />
<rect x="592.00" y="462.00" width="1.00" height="19.00" fill="#000" />
<rect x="592.00" y="469.00" width="9.00" height="1.00" fill="#000" />
<rect x="592.00" y="476.00" width="9.00" height="1.00" fill="#000" />
<rect x="589.00" y="462.00" width="2.00" height="17.00" fill="#000" />
<rect x="589.00" y="478.00" width="4.00" height="1.00" fill="#000" />
<rect x="581.00" y="463.00" width="11.00" height="1.00" fill="#000" />
<rect x="581.00" y="462.00" width="1.00" height="9.00" fill="#000" />
<rect x="585.00" y="467.00" width="4.00" height="1.00" fill="#000" />
<rect x="585.00" y="467.00" width="1.00" height="4.00" fill="#000" />
<rect x="581.00" y="470.00" width="7.00" height="1.00" fill="#000" />
<rect x="579.00" y="467.00" width="3.00" height="1.00" fill="#000" />
<rect x="579.00" y="467.00" width="1.00" height="10.00" fill="#000" />
<rect x="579.00" y="476.00" width="11.00" height="1.00" fill="#000" />
<rect x="400.00" y="464.00" width="174.00" height="7.00" fill="#000" />
<rect x="399.00" y="470.00" width="176.00" height="8.00" fill="#000" />
<rect x="402.76" y="471.00" width="4.32" height="6.00" fill="#fff" />
<rect x="403.90" y="465.00" width="1.30" height="4.00" fill="#fff" />
<rect x="408.65" y="471.00" width="4.32" height="6.00" fill="#fff" />
<rect x="409.80" y="465.00" width="1.30" height="6.50" fill="#fff" />
<rect x="414.55" y="471.00" width="4.32" height="6.00" fill="#fff" />
<rect x="415.70" y="465.00" width="1.30" height="4.00" fill="#fff" />
<rect x="420.44" y="471.00" width="4.32" height="6.00" fill="#fff" />
<rect x="421.59" y="465.00" width="1.30" height="4.00" fill="#fff" />
<rect x="426.33" y="471.00" width="4.32" height="6.00" fill="#fff" />
<rect x="427.49" y="465.00" width="1.30" height="4.00" fill="#fff" />
<rect x="432.22" y="471.00" width="4.32" height="6.00" fill="#fff" />
<rect x="433.39" y="465.00" width="1.30" height="4.00" fill="#fff" />
<rect x="438.12" y="471.00" width="4.32" height="6.00" fill="#fff" />
<rect x="439.29" y="465.00" width="1.30" height="6.50" fill="#fff" />
<rect x="444.01" y="471.00" width="4.32" height="6.00" fill="#fff" />
<rect x="445.19" y="465.00" width="1.30" height="4.00" fill="#fff" />
<rect x="449.90" y="471.00" width="4.32" height="6.00" fill="#fff" />
<rect x="451.08" y="465.00" width="1.30" height="4.00" fill="#fff" />
<rect x="455.80" y="471.00" width="4.32" height="6.00" fill="#fff" />
<rect x="456.98" y="465.00" width="1.30" height="4.00" fill="#fff" />
<rect x="461.69" y="471.00" width="4.32" height="6.00" fill="#fff" />
<rect x="462.88" y="465.00" width="1.30" height="4.00" fill="#fff" />
<rect x="467.58" y="471.00" width="4.32" height="6.00" fill="#fff" />
<rect x="468.78" y="465.00" width="1.30" height="4.00" fill="#fff" />
<rect x="473.48" y="471.00" width="4.32" height="6.00" fill="#fff" />
<rect x="474.68" y="465.00" width="1.30" height="4.00" fill="#fff" />
<rect x="479.37" y="471.00" width="4.32" height="6.00" fill="#fff" />
<rect x="480.57" y="465.00" width="1.30" height="4.00" fill="#fff" />
<rect x="485.26" y="471.00" width="4.32" height="6.00" fill="#fff" />
<rect x="486.47" y="465.00" width="1.30" height="6.50" fill="#fff" />
<rect x="491.15" y="471.00" width="4.32" height="6.00" fill="#fff" />
<rect x="492.37" y="465.00" width="1.30" height="6.50" fill="#fff" />
<rect x="497.05" y="471.00" width="4.32" height="6.00" fill="#fff" />
<rect x="498.27" y="465.00" width="1.30" height="4.00" fill="#fff" />
<rect x="502.94" y="471.00" width="4.32" height="6.00" fill="#fff" />
<rect x="504.17" y="465.00" width="1.30" height="4.00" fill="#fff" />
<rect x="508.83" y="471.00" width="4.32" height="6.00" fill="#fff" />
<rect x="510.06" y="465.00" width="1.30" height="4.00" fill="#fff" />
<rect x="514.73" y="471.00" width="4.32" height="6.00" fill="#fff" />
<rect x="515.96" y="465.00" width="1.30" height="4.00" fill="#fff" />
<rect x="520.62" y="471.00" width="4.32" height="6.00" fill="#fff" />
<rect x="521.86" y="465.00" width="1.30" height="4.00" fill="#fff" />
<rect x="526.51" y="471.00" width="4.32" height="6.00" fill="#fff" />
<rect x="527.76" y="465.00" width="1.30" height="4.00" fill="#fff" />
<rect x="532.41" y="471.00" width="4.32" height="6.00" fill="#fff" />
<rect x="533.66" y="465.00" width="1.30" height="6.50" fill="#fff" />
<rect x="538.30" y="471.00" width="4.32" height="6.00" fill="#fff" />
<rect x="539.55" y="465.00" width="1.30" height="4.00" fill="#fff" />
<rect x="544.19" y="471.00" width="4.32" height="6.00" fill="#fff" />
<rect x="545.45" y="465.00" width="1.30" height="4.00" fill="#fff" />
<rect x="550.09" y="471.00" width="4.32" height="6.00" fill="#fff" />
<rect x="551.35" y="465.00" width="1.30" height="4.00" fill="#fff" />
<rect x="555.98" y="471.00" width="4.32" height="6.00" fill="#fff" />
<rect x="557.25" y="465.00" width="1.30" height="4.00" fill="#fff" />
<rect x="561.87" y="471.00" width="4.32" height="6.00" fill="#fff" />
<rect x="563.15" y="465.00" width="1.30" height="4.00" fill="#fff" />
<rect x="567.76" y="471.00" width="4.32" height="6.00" fill="#fff" />
<rect x="569.04" y="465.00" width="1.30" height="4.00" fill="#fff" />
<rect x="400.30" y="471.00" width="0.90" height="6.00" fill="#fff" />
<rect x="573.00" y="471.00" width="1.00" height="6.00" fill="#fff" />
<rect x="375.00" y="482.00" width="226.00" height="19.00" fill="#000" />
<rect x="376.00" y="483.00" width="224.00" height="17.00" fill="#fff" />
<rect x="374.00" y="489.00" width="9.00" height="8.00" fill="#000" />
<rect x="375.00" y="490.00" width="7.00" height="6.00" fill="#fff" />
<rect x="382.00" y="483.00" width="3.00" height="16.00" fill="#000" />
<rect x="392.00" y="482.00" width="1.00" height="8.00" fill="#000" />
<rect x="385.00" y="487.00" width="4.00" height="1.00" fill="#000" />
<rect x="388.00" y="487.00" width="1.00" height="3.00" fill="#000" />
<rect x="388.00" y="489.00" width="6.00" height="1.00" fill="#000" />
<rect x="392.00" y="487.00" width="3.00" height="1.00" fill="#000" />
<rect x="394.00" y="487.00" width="1.00" height="10.00" fill="#000" />
<rect x="385.00" y="496.00" width="10.00" height="1.00" fill="#000" />
<rect x="592.00" y="482.00" width="1.00" height="19.00" fill="#000" />
<rect x="592.00" y="489.00" width="9.00" height="1.00" fill="#000" />
<rect x="592.00" y="496.00" width="9.00" height="1.00" fill="#000" />
<rect x="589.00" y="482.00" width="2.00" height="17.00" fill="#000" />
<rect x="589.00" y="498.00" width="4.00" height="1.00" fill="#000" />
<rect x="581.00" y="483.00" width="11.00" height="1.00" fill="#000" />
<rect x="581.00" y="482.00" width="1.00" height="9.00" fill="#000" />
<rect x="585.00" y="487.00" width="4.00" height="1.00" fill="#000" />
<rect x="585.00" y="487.00" width="1.00" height="4.00" fill="#000" />
<rect x="581.00" y="490.00" width="7.00" height="1.00" fill="#000" />
<rect x="579.00" y="487.00" width="3.00" height="1.00" fill="#000" />
<rect x="579.00" y="487.00" width="1.00" height="10.00" fill="#000" />
<rect x="579.00" y="496.00" width="11.00" height="1.00" fill="#000" />
<rect x="400.00" y="484.00" width="174.00" height="7.00" fill="#000" />
<rect x="399.00" y="490.00" width="176.00" height="8.00" fill="#000" />
<rect x="402.76" y="491.00" width="4.32" height="6.00" fill="#fff" />
<rect x="403.90" y="485.00" width="1.30" height="4.00" fill="#fff" />
<rect x="408.65" y="491.00" width="4.32" height="6.00" fill="#fff" />
<rect x="409.80" y="485.00" width="1.30" height="6.50" fill="#fff" />
<rect x="414.55" y="491.00" width="4.32" height="6.00" fill="#fff" />
<rect x="415.70" y="485.00" width="1.30" height="4.00" fill="#fff" />
<rect x="420.44" y="491.00" width="4.32" height="6.00" fill="#fff" />
<rect x="421.59" y="485.00" width="1.30" height="4.00" fill="#fff" />
<rect x="426.33" y="491.00" width="4.32" height="6.00" fill="#fff" />
<rect x="427.49" y="485.00" width="1.30" height="4.00" fill="#fff" />
<rect x="432.22" y="491.00" width="4.32" height="6.00" fill="#fff" />
<rect x="433.39" y="485.00" width="1.30" height="4.00" fill="#fff" />
<rect x="438.12" y="491.00" width="4.32" height="6.00" fill="#fff" />
<rect x="439.29" y="485.00" width="1.30" height="6.50" fill="#fff" />
<rect x="444.01" y="491.00" width="4.32" height="6.00" fill="#fff" />
<rect x="445.19" y="485.00" width="1.30" height="4.00" fill="#fff" />
<rect x="449.90" y="491.00" width="4.32" height="6.00" fill="#fff" />
<rect x="451.08" y="485.00" width="1.30" height="4.00" fill="#fff" />
<rect x="455.80" y="491.00" width="4.32" height="6.00" fill="#fff" />
<rect x="456.98" y="485.00" width="1.30" height="4.00" fill="#fff" />
<rect x="461.69" y="491.00" width="4.32" height="6.00" fill="#fff" />
<rect x="462.88" y="485.00" width="1.30" height="4.00" fill="#fff" />
<rect x="467.58" y="491.00" width="4.32" height="6.00" fill="#fff" />
<rect x="468.78" y="485.00" width="1.30" height="4.00" fill="#fff" />
<rect x="473.48" y="491.00" width="4.32" height="6.00" fill="#fff" />
<rect x="474.68" y="485.00" width="1.30" height="4.00" fill="#fff" />
<rect x="479.37" y="491.00" width="4.32" height="6.00" fill="#fff" />
<rect x="480.57" y="485.00" width="1.30" height="4.00" fill="#fff" />
<rect x="485.26" y="491.00" width="4.32" height="6.00" fill="#fff" />
<rect x="486.47" y="485.00" width="1.30" height="6.50" fill="#fff" />
<rect x="491.15" y="491.00" width="4.32" height="6.00" fill="#fff" />
<rect x="492.37" y="485.00" width="1.30" height="6.50" fill="#fff" />
<rect x="497.05" y="491.00" width="4.32" height="6.00" fill="#fff" />
<rect x="498.27" y="485.00" width="1.30" height="4.00" fill="#fff" />
<rect x="502.94" y="491.00" width="4.32" height="6.00" fill="#fff" />
<rect x="504.17" y="485.00" width="1.30" height="4.00" fill="#fff" />
<rect x="508.83" y="491.00" width="4.32" height="6.00" fill="#fff" />
<rect x="510.06" y="485.00" width="1.30" height="4.00" fill="#fff" />
<rect x="514.73" y="491.00" width="4.32" height="6.00" fill="#fff" />
<rect x="515.96" y="485.00" width="1.30" height="4.00" fill="#fff" />
<rect x="520.62" y="491.00" width="4.32" height="6.00" fill="#fff" />
<rect x="521.86" y="485.00" width="1.30" height="4.00" fill="#fff" />
<rect x="526.51" y="491.00" width="4.32" height="6.00" fill="#fff" />
<rect x="527.76" y="485.00" width="1.30" height="4.00" fill="#fff" />
<rect x="532.41" y="491.00" width="4.32" height="6.00" fill="#fff" />
<rect x="533.66" y="485.00" width="1.30" height="6.50" fill="#fff" />
<rect x="538.30" y="491.00" width="4.32" height="6.00" fill="#fff" />
<rect x="539.55" y="485.00" width="1.30" height="4.00" fill="#fff" />
<rect x="544.19" y="491.00" width="4.32" height="6.00" fill="#fff" />
<rect x="545.45" y="485.00" width="1.30" height="4.00" fill="#fff" />
<rect x="550.09" y="491.00" width="4.32" height="6.00" fill="#fff" />
<rect x="551.35" y="485.00" width="1.30" height="4.00" fill="#fff" />
<rect x="555.98" y="491.00" width="4.32" height="6.00" fill="#fff" />
<rect x="557.25" y="485.00" width="1.30" height="4.00" fill="#fff" />
<rect x="561.87" y="491.00" width="4.32" height="6.00" fill="#fff" />
<rect x="563.15" y="485.00" width="1.30" height="4.00" fill="#fff" />
<rect x="567.76" y="491.00" width="4.32" height="6.00" fill="#fff" />
<rect x="569.04" y="485.00" width="1.30" height="4.00" fill="#fff" />
<rect x="400.30" y="491.00" width="0.90" height="6.00" fill="#fff" />
<rect x="573.00" y="491.00" width="1.00" height="6.00" fill="#fff" />
<rect x="375.00" y="502.00" width="226.00" height="19.00" fill="#000" />
<rect x="376.00" y="503.00" width="224.00" height="17.00" fill="#fff" />
<rect x="374.00" y="509.00" width="9.00" height="8.00" fill="#000" />
<rect x="375.00" y="510.00" width="7.00" height="6.00" fill="#fff" />
<rect x="382.00" y="503.00" width="3.00" height="16.00" fill="#000" />
<rect x="392.00" y="502.00" width="1.00" height="8.00" fill="#000" />
<rect x="385.00" y="507.00" width="4.00" height="1.00" fill="#000" />
<rect x="388.00" y="507.00" width="1.00" height="3.00" fill="#000" />
<rect x="388.00" y="509.00" width="6.00" height="1.00" fill="#000" />
<rect x="392.00" y="507.00" width="3.00" height="1.00" fill="#000" />
<rect x="394.00" y="507.00" width="1.00" height="10.00" fill="#000" />
<rect x="385.00" y="516.00" width="10.00" height="1.00" fill="#000" />
<rect x="592.00" y="502.00" width="1.00" height="19.00" fill="#000" />
<rect x="592.00" y="509.00" width="9.00" height="1.00" fill="#000" />
<rect x="592.00" y="516.00" width="9.00" height="1.00" fill="#000" />
<rect x="589.00" y="502.00" width="2.00" height="17.00" fill="#000" />
<rect x="589.00" y="518.00" width="4.00" height="1.00" fill="#000" />
<rect x="581.00" y="503.00" width="11.00" height="1.00" fill="#000" />
<rect x="581.00" y="502.00" width="1.00" height="9.00" fill="#000" />
<rect x="585.00" y="507.00" width="4.00" height="1.00" fill="#000" />
<rect x="585.00" y="507.00" width="1.00" height="4.00" fill="#000" />
<rect x="581.00" y="510.00" width="7.00" height="1.00" fill="#000" />
<rect x="579.00" y="507.00" width="3.00" height="1.00" fill="#000" />
<rect x="579.00" y="507.00" width="1.00" height="10.00" fill="#000" />
<rect x="579.00" y="516.00" width="11.00" height="1.00" fill="#000" />
<rect x="400.00" y="504.00" width="174.00" height="7.00" fill="#000" />
<rect x="399.00" y="510.00" width="176.00" height="8.00" fill="#000" />
<rect x="402.76" y="511.00" width="4.32" height="6.00" fill="#fff" />
<rect x="403.90" y="505.00" width="1.30" height="4.00" fill="#fff" />
<rect x="408.65" y="511.00" width="4.32" height="6.00" fill="#fff" />
<rect x="409.80" y="505.00" width="1.30" height="6.50" fill="#fff" />
<rect x="414.55" y="511.00" width="4.32" height="6.00" fill="#fff" />
<rect x="415.70" y="505.00" width="1.30" height="4.00" fill="#fff" />
<rect x="420.44" y="511.00" width="4.32" height="6.00" fill="#fff" />
<rect x="421.59" y="505.00" width="1.30" height="4.00" fill="#fff" />
<rect x="426.33" y="511.00" width="4.32" height="6.00" fill="#fff" />
<rect x="427.49" y="505.00" width="1.30" height="4.00" fill="#fff" />
<rect x="432.22" y="511.00" width="4.32" height="6.00" fill="#fff" />
<rect x="433.39" y="505.00" width="1.30" height="4.00" fill="#fff" />
<rect x="438.12" y="511.00" width="4.32" height="6.00" fill="#fff" />
<rect x="439.29" y="505.00" width="1.30" height="6.50" fill="#fff" />
<rect x="444.01" y="511.00" width="4.32" height="6.00" fill="#fff" />
<rect x="445.19" y="505.00" width="1.30" height="4.00" fill="#fff" />
<rect x="449.90" y="511.00" width="4.32" height="6.00" fill="#fff" />
<rect x="451.08" y="505.00" width="1.30" height="4.00" fill="#fff" />
<rect x="455.80" y="511.00" width="4.32" height="6.00" fill="#fff" />
<rect x="456.98" y="505.00" width="1.30" height="4.00" fill="#fff" />
<rect x="461.69" y="511.00" width="4.32" height="6.00" fill="#fff" />
<rect x="462.88" y="505.00" width="1.30" height="4.00" fill="#fff" />
<rect x="467.58" y="511.00" width="4.32" height="6.00" fill="#fff" />
<rect x="468.78" y="505.00" width="1.30" height="4.00" fill="#fff" />
<rect x="473.48" y="511.00" width="4.32" height="6.00" fill="#fff" />
<rect x="474.68" y="505.00" width="1.30" height="4.00" fill="#fff" />
<rect x="479.37" y="511.00" width="4.32" height="6.00" fill="#fff" />
<rect x="480.57" y="505.00" width="1.30" height="4.00" fill="#fff" />
<rect x="485.26" y="511.00" width="4.32" height="6.00" fill="#fff" />
<rect x="486.47" y="505.00" width="1.30" height="6.50" fill="#fff" />
<rect x="491.15" y="511.00" width="4.32" height="6.00" fill="#fff" />
<rect x="492.37" y="505.00" width="1.30" height="6.50" fill="#fff" />
<rect x="497.05" y="511.00" width="4.32" height="6.00" fill="#fff" />
<rect x="498.27" y="505.00" width="1.30" height="4.00" fill="#fff" />
<rect x="502.94" y="511.00" width="4.32" height="6.00" fill="#fff" />
<rect x="504.17" y="505.00" width="1.30" height="4.00" fill="#fff" />
<rect x="508.83" y="511.00" width="4.32" height="6.00" fill="#fff" />
<rect x="510.06" y="505.00" width="1.30" height="4.00" fill="#fff" />
<rect x="514.73" y="511.00" width="4.32" height="6.00" fill="#fff" />
<rect x="515.96" y="505.00" width="1.30" height="4.00" fill="#fff" />
<rect x="520.62" y="511.00" width="4.32" height="6.00" fill="#fff" />
<rect x="521.86" y="505.00" width="1.30" height="4.00" fill="#fff" />
<rect x="526.51" y="511.00" width="4.32" height="6.00" fill="#fff" />
<rect x="527.76" y="505.00" width="1.30" height="4.00" fill="#fff" />
<rect x="532.41" y="511.00" width="4.32" height="6.00" fill="#fff" />
<rect x="533.66" y="505.00" width="1.30" height="6.50" fill="#fff" />
<rect x="538.30" y="511.00" width="4.32" height="6.00" fill="#fff" />
<rect x="539.55" y="505.00" width="1.30" height="4.00" fill="#fff" />
<rect x="544.19" y="511.00" width="4.32" height="6.00" fill="#fff" />
<rect x="545.45" y="505.00" width="1.30" height="4.00" fill="#fff" />
<rect x="550.09" y="511.00" width="4.32" height="6.00" fill="#fff" />
<rect x="551.35" y="505.00" width="1.30" height="4.00" fill="#fff" />
<rect x="555.98" y="511.00" width="4.32" height="6.00" fill="#fff" />
<rect x="557.25" y="505.00" width="1.30" height="4.00" fill="#fff" />
<rect x="561.87" y="511.00" width="4.32" height="6.00" fill="#fff" />
<rect x="563.15" y="505.00" width="1.30" height="4.00" fill="#fff" />
<rect x="567.76" y="511.00" width="4.32" height="6.00" fill="#fff" />
<rect x="569.04" y="505.00" width="1.30" height="4.00" fill="#fff" />
<rect x="400.30" y="511.00" width="0.90" height="6.00" fill="#fff" />
<rect x="573.00" y="511.00" width="1.00" height="6.00" fill="#fff" />
<rect x="621.5" y="353.5" width="24" height="111" fill="#fff" stroke="#000" stroke-width="1"/>
<rect x="624.5" y="359.5" width="7" height="6" fill="#fff" stroke="#000" stroke-width="1"/>
<rect x="624.5" y="368.5" width="7" height="6" fill="#fff" stroke="#000" stroke-width="1"/>
<rect x="624.5" y="378.5" width="7" height="6" fill="#fff" stroke="#000" stroke-width="1"/>
<rect x="624.5" y="387.5" width="7" height="6" fill="#fff" stroke="#000" stroke-width="1"/>
<rect x="624.5" y="396.5" width="7" height="6" fill="#fff" stroke="#000" stroke-width="1"/>
<rect x="624.5" y="406.5" width="7" height="6" fill="#fff" stroke="#000" stroke-width="1"/>
<rect x="624.5" y="415.5" width="7" height="6" fill="#fff" stroke="#000" stroke-width="1"/>
<rect x="624.5" y="424.5" width="7" height="6" fill="#fff" stroke="#000" stroke-width="1"/>
<rect x="624.5" y="433.5" width="7" height="6" fill="#fff" stroke="#000" stroke-width="1"/>
<rect x="624.5" y="443.5" width="7" height="6" fill="#fff" stroke="#000" stroke-width="1"/>
<rect x="624.5" y="452.5" width="7" height="6" fill="#fff" stroke="#000" stroke-width="1"/>
<rect x="637.00" y="354.00" width="1.00" height="110.00" fill="#000" />
<rect x="633.00" y="355.10" width="2.00" height="6.60" fill="#000" />
<rect x="639.5" y="355.5" width="2" height="5.6" fill="#fff" stroke="#000" stroke-width="1"/>
<rect x="638.00" y="357.00" width="2.00" height="3.00" fill="#000" />
<rect x="633.00" y="364.17" width="2.00" height="6.60" fill="#000" />
<rect x="639.5" y="364.5" width="2" height="5.6" fill="#fff" stroke="#000" stroke-width="1"/>
<rect x="638.00" y="366.00" width="2.00" height="3.00" fill="#000" />
<rect x="633.00" y="373.24" width="2.00" height="6.60" fill="#000" />
<rect x="639.5" y="373.5" width="2" height="5.6" fill="#fff" stroke="#000" stroke-width="1"/>
<rect x="638.00" y="375.00" width="2.00" height="3.00" fill="#000" />
<rect x="633.00" y="382.31" width="2.00" height="6.60" fill="#000" />
<rect x="639.5" y="382.5" width="2" height="5.6" fill="#fff" stroke="#000" stroke-width="1"/>
<rect x="638.00" y="384.00" width="2.00" height="3.00" fill="#000" />
<rect x="633.00" y="391.38" width="2.00" height="6.60" fill="#000" />
<rect x="639.5" y="391.5" width="2" height="5.6" fill="#fff" stroke="#000" stroke-width="1"/>
<rect x="638.00" y="393.00" width="2.00" height="3.00" fill="#000" />
<rect x="633.00" y="400.45" width="2.00" height="6.60" fill="#000" />
<rect x="639.5" y="400.5" width="2" height="5.6" fill="#fff" stroke="#000" stroke-width="1"/>
<rect x="638.00" y="402.00" width="2.00" height="3.00" fill="#000" />
<rect x="633.00" y="409.52" width="2.00" height="6.60" fill="#000" />
<rect x="639.5" y="410.5" width="2" height="5.6" fill="#fff" stroke="#000" stroke-width="1"/>
<rect x="638.00" y="412.00" width="2.00" height="3.00" fill="#000" />
<rect x="633.00" y="418.59" width="2.00" height="6.60" fill="#000" />
<rect x="639.5" y="419.5" width="2" height="5.6" fill="#fff" stroke="#000" stroke-width="1"/>
<rect x="638.00" y="421.00" width="2.00" height="3.00" fill="#000" />
<rect x="633.00" y="427.66" width="2.00" height="6.60" fill="#000" />
<rect x="639.5" y="428.5" width="2" height="5.6" fill="#fff" stroke="#000" stroke-width="1"/>
<rect x="638.00" y="430.00" width="2.00" height="3.00" fill="#000" />
<rect x="633.00" y="436.73" width="2.00" height="6.60" fill="#000" />
<rect x="639.5" y="437.5" width="2" height="5.6" fill="#fff" stroke="#000" stroke-width="1"/>
<rect x="638.00" y="439.00" width="2.00" height="3.00" fill="#000" />
<rect x="633.00" y="445.80" width="2.00" height="6.60" fill="#000" />
<rect x="639.5" y="446.5" width="2" height="5.6" fill="#fff" stroke="#000" stroke-width="1"/>
<rect x="638.00" y="448.00" width="2.00" height="3.00" fill="#000" />
<rect x="633.00" y="454.87" width="2.00" height="6.60" fill="#000" />
<rect x="639.5" y="455.5" width="2" height="5.6" fill="#fff" stroke="#000" stroke-width="1"/>
<rect x="638.00" y="457.00" width="2.00" height="3.00" fill="#000" />
<path d="M624.5 354 V356.5 H631.5 V354" fill="none" stroke="#000" stroke-width="1"/>
<path d="M626.5 354 L628 355.6 L629.5 354" fill="none" stroke="#000" stroke-width="0.9"/>
<path d="M625.5 464 V461.5 H627.5 V464 M630.5 464 V461.5 H632.5 V464" fill="none" stroke="#000" stroke-width="1"/>
<rect x="671.3" y="325.7" width="39.3" height="38.6" fill="#fff" stroke="#000" stroke-width="1"/>
<rect x="703.10" y="325.20" width="8.00" height="39.60" fill="#000" />
<path d="M680 398 H704 V393 H707 V391 H711 V442 H707 V440 H704 V434.8 H680 V429 H677 V404 H680 Z" fill="#000"/>
<rect x="673.4" y="406.4" width="4" height="7.8" fill="#fff" stroke="#000" stroke-width="1"/>
<rect x="673.4" y="418.5" width="4" height="8" fill="#fff" stroke="#000" stroke-width="1"/>
<rect x="678.00" y="414.30" width="1.90" height="4.50" fill="#fff" />
<rect x="29.00" y="29.00" width="7.00" height="19.00" fill="#000" />
<rect x="30.00" y="30.00" width="5.00" height="1.00" fill="#fff" />
<rect x="31.00" y="32.00" width="3.00" height="3.00" fill="#fff" />
<rect x="30.00" y="35.00" width="5.00" height="1.00" fill="#fff" />
<rect x="30.00" y="41.00" width="5.00" height="1.00" fill="#fff" />
<rect x="29.00" y="59.00" width="7.00" height="19.00" fill="#000" />
<rect x="30.00" y="60.00" width="5.00" height="1.00" fill="#fff" />
<rect x="31.00" y="62.00" width="3.00" height="3.00" fill="#fff" />
<rect x="30.00" y="65.00" width="5.00" height="1.00" fill="#fff" />
<rect x="30.00" y="71.00" width="5.00" height="1.00" fill="#fff" />
<rect x="29.00" y="110.00" width="7.00" height="26.00" fill="#000" />
<rect x="30.00" y="111.00" width="5.00" height="1.00" fill="#fff" />
<rect x="31.00" y="113.00" width="3.00" height="2.00" fill="#fff" />
<rect x="30.00" y="116.00" width="5.00" height="1.00" fill="#fff" />
<rect x="30.00" y="122.00" width="5.00" height="2.00" fill="#fff" />
<rect x="30.00" y="128.00" width="5.00" height="1.00" fill="#fff" />
<rect x="30.00" y="134.00" width="5.00" height="1.00" fill="#fff" />
<rect x="29.00" y="144.00" width="7.00" height="13.00" fill="#000" />
<rect x="30.00" y="145.00" width="5.00" height="1.00" fill="#fff" />
<rect x="30.00" y="150.00" width="5.00" height="1.00" fill="#fff" />
<rect x="29.00" y="167.00" width="7.00" height="19.00" fill="#000" />
<rect x="31.00" y="169.00" width="2.00" height="3.00" fill="#fff" />
<rect x="30.00" y="173.00" width="4.00" height="1.00" fill="#fff" />
<rect x="30.00" y="180.00" width="4.00" height="1.00" fill="#fff" />
<rect x="34.00" y="168.00" width="1.00" height="17.00" fill="#fff" />
<rect x="29.00" y="194.00" width="7.00" height="13.00" fill="#000" />
<rect x="30.00" y="195.00" width="5.00" height="1.00" fill="#fff" />
<rect x="30.00" y="195.00" width="1.00" height="11.00" fill="#fff" />
<rect x="30.00" y="201.00" width="5.00" height="1.00" fill="#fff" />
<rect x="29.00" y="216.00" width="7.00" height="14.00" fill="#000" />
<rect x="30.00" y="217.00" width="5.00" height="1.00" fill="#fff" />
<rect x="30.00" y="222.00" width="5.00" height="2.00" fill="#fff" />
<rect x="30.00" y="228.00" width="5.00" height="1.00" fill="#fff" />
<rect x="29.00" y="241.00" width="7.00" height="13.60" fill="#000" />
<rect x="30.00" y="242.00" width="5.00" height="1.00" fill="#fff" />
<rect x="30.00" y="242.00" width="1.00" height="11.60" fill="#fff" />
<rect x="30.00" y="247.00" width="5.00" height="1.00" fill="#fff" />
<rect x="30.00" y="252.60" width="5.00" height="1.00" fill="#fff" />
<rect x="30.00" y="258.00" width="6.00" height="20.00" fill="#000" />
<rect x="31.00" y="259.00" width="4.00" height="1.00" fill="#fff" />
<rect x="32.00" y="261.00" width="2.00" height="2.00" fill="#fff" />
<rect x="31.00" y="265.00" width="4.00" height="1.00" fill="#fff" />
<rect x="31.00" y="270.00" width="4.00" height="2.00" fill="#fff" />
<rect x="31.00" y="275.00" width="4.00" height="1.00" fill="#fff" />
<rect x="59.00" y="285.00" width="14.00" height="6.00" fill="#000" />
<rect x="60.00" y="286.00" width="1.00" height="4.00" fill="#fff" />
<rect x="65.00" y="286.00" width="2.00" height="4.00" fill="#fff" />
<rect x="71.00" y="286.00" width="1.00" height="4.00" fill="#fff" />
<rect x="56.00" y="293.00" width="20.00" height="7.00" fill="#000" />
<rect x="57.00" y="294.00" width="1.00" height="5.00" fill="#fff" />
<rect x="59.00" y="295.00" width="3.00" height="3.00" fill="#fff" />
<rect x="63.00" y="294.00" width="1.00" height="5.00" fill="#fff" />
<rect x="68.00" y="294.00" width="2.00" height="5.00" fill="#fff" />
<rect x="74.00" y="294.00" width="1.00" height="5.00" fill="#fff" />
<rect x="57.00" y="303.00" width="20.00" height="7.00" fill="#000" />
<rect x="58.00" y="304.00" width="1.00" height="5.00" fill="#fff" />
<rect x="60.00" y="305.00" width="3.00" height="3.00" fill="#fff" />
<rect x="64.00" y="304.00" width="1.00" height="5.00" fill="#fff" />
<rect x="69.00" y="304.00" width="2.00" height="5.00" fill="#fff" />
<rect x="75.00" y="304.00" width="1.00" height="5.00" fill="#fff" />
<rect x="104.00" y="91.00" width="19.00" height="6.00" fill="#000" />
<rect x="105.00" y="92.00" width="1.00" height="4.00" fill="#fff" />
<rect x="107.00" y="93.00" width="3.00" height="2.00" fill="#fff" />
<rect x="111.00" y="92.00" width="1.00" height="4.00" fill="#fff" />
<rect x="116.00" y="92.00" width="2.00" height="4.00" fill="#fff" />
<rect x="104.00" y="114.00" width="20.00" height="6.00" fill="#000" />
<rect x="105.00" y="115.00" width="1.00" height="4.00" fill="#fff" />
<rect x="107.00" y="116.00" width="3.00" height="2.00" fill="#fff" />
<rect x="111.00" y="115.00" width="1.00" height="4.00" fill="#fff" />
<rect x="116.00" y="115.00" width="2.00" height="4.00" fill="#fff" />
<rect x="272.00" y="226.00" width="18.00" height="7.00" fill="#000" />
<rect x="273.00" y="227.00" width="1.00" height="5.00" fill="#fff" />
<rect x="275.00" y="228.00" width="3.00" height="3.00" fill="#fff" />
<rect x="279.00" y="227.00" width="1.00" height="5.00" fill="#fff" />
<rect x="284.00" y="227.00" width="2.00" height="5.00" fill="#fff" />
<rect x="272.00" y="244.00" width="18.00" height="7.00" fill="#000" />
<rect x="273.00" y="245.00" width="1.00" height="5.00" fill="#fff" />
<rect x="275.00" y="246.00" width="3.00" height="3.00" fill="#fff" />
<rect x="279.00" y="245.00" width="1.00" height="5.00" fill="#fff" />
<rect x="284.00" y="245.00" width="2.00" height="5.00" fill="#fff" />
<rect x="272.00" y="263.00" width="18.00" height="7.00" fill="#000" />
<rect x="273.00" y="264.00" width="1.00" height="5.00" fill="#fff" />
<rect x="275.00" y="265.00" width="3.00" height="3.00" fill="#fff" />
<rect x="279.00" y="264.00" width="1.00" height="5.00" fill="#fff" />
<rect x="284.00" y="264.00" width="2.00" height="5.00" fill="#fff" />
<rect x="682.00" y="40.00" width="20.00" height="7.00" fill="#000" />
<rect x="683.00" y="41.00" width="1.00" height="5.00" fill="#fff" />
<rect x="685.00" y="42.00" width="3.00" height="3.00" fill="#fff" />
<rect x="689.00" y="41.00" width="1.00" height="5.00" fill="#fff" />
<rect x="694.00" y="41.00" width="2.00" height="5.00" fill="#fff" />
<rect x="700.00" y="41.00" width="1.00" height="5.00" fill="#fff" />
<rect x="675.00" y="134.00" width="19.00" height="6.00" fill="#000" />
<rect x="676.00" y="135.00" width="1.00" height="4.00" fill="#fff" />
<rect x="678.00" y="136.00" width="3.00" height="2.00" fill="#fff" />
<rect x="682.00" y="135.00" width="1.00" height="4.00" fill="#fff" />
<rect x="687.00" y="135.00" width="2.00" height="4.00" fill="#fff" />
<rect x="675.00" y="154.00" width="19.00" height="7.00" fill="#000" />
<rect x="676.00" y="155.00" width="17.00" height="1.00" fill="#fff" />
<rect x="676.00" y="155.00" width="1.00" height="5.00" fill="#fff" />
<rect x="678.00" y="157.00" width="2.00" height="2.00" fill="#fff" />
<rect x="682.00" y="156.00" width="1.00" height="4.00" fill="#fff" />
<rect x="688.00" y="156.00" width="1.00" height="4.00" fill="#fff" />
<rect x="685.00" y="295.00" width="14.00" height="6.00" fill="#000" />
<rect x="686.00" y="296.00" width="1.00" height="4.00" fill="#fff" />
<rect x="689.00" y="296.00" width="2.00" height="4.00" fill="#fff" />
<rect x="694.00" y="296.00" width="2.00" height="4.00" fill="#fff" />
<rect x="697.00" y="296.00" width="1.00" height="4.00" fill="#fff" />
<rect x="685.00" y="311.00" width="13.00" height="7.00" fill="#000" />
<rect x="690.00" y="312.00" width="1.00" height="5.00" fill="#fff" />
<rect x="677.00" y="441.00" width="7.00" height="13.50" fill="#000" />
<rect x="678.00" y="442.00" width="5.00" height="1.00" fill="#fff" />
<rect x="678.00" y="447.00" width="5.00" height="1.00" fill="#fff" />
<rect x="678.00" y="452.00" width="5.00" height="1.00" fill="#fff" />
<rect x="682.00" y="442.00" width="1.00" height="11.00" fill="#fff" />
<rect x="313.00" y="310.00" width="7.00" height="19.00" fill="#000" />
<rect x="314.00" y="311.00" width="5.00" height="1.00" fill="#fff" />
<rect x="315.00" y="313.00" width="3.00" height="3.00" fill="#fff" />
<rect x="314.00" y="317.00" width="5.00" height="1.00" fill="#fff" />
<rect x="314.00" y="322.00" width="5.00" height="2.00" fill="#fff" />
<rect x="297.00" y="311.00" width="7.00" height="19.00" fill="#000" />
<rect x="299.00" y="313.00" width="2.00" height="3.00" fill="#fff" />
<rect x="298.00" y="317.00" width="4.00" height="1.00" fill="#fff" />
<rect x="298.00" y="322.00" width="4.00" height="2.00" fill="#fff" />
<rect x="298.00" y="328.00" width="5.00" height="1.00" fill="#fff" />
<rect x="302.00" y="312.00" width="1.00" height="16.00" fill="#fff" />
<rect x="115.00" y="372.00" width="6.00" height="19.00" fill="#000" />
<rect x="116.00" y="373.00" width="4.00" height="1.00" fill="#fff" />
<rect x="117.00" y="375.00" width="2.00" height="3.00" fill="#fff" />
<rect x="116.00" y="379.00" width="4.00" height="1.00" fill="#fff" />
<rect x="116.00" y="383.00" width="4.00" height="2.00" fill="#fff" />
<rect x="116.00" y="389.00" width="4.00" height="1.00" fill="#fff" />
<rect x="134.00" y="372.00" width="6.00" height="20.00" fill="#000" />
<rect x="135.00" y="373.00" width="4.00" height="1.00" fill="#fff" />
<rect x="136.00" y="375.00" width="2.00" height="3.00" fill="#fff" />
<rect x="135.00" y="379.00" width="4.00" height="1.00" fill="#fff" />
<rect x="135.00" y="383.00" width="4.00" height="2.00" fill="#fff" />
<rect x="135.00" y="389.00" width="4.00" height="1.00" fill="#fff" />
<rect x="150.00" y="372.00" width="6.00" height="19.00" fill="#000" />
<rect x="152.00" y="375.00" width="2.00" height="3.00" fill="#fff" />
<rect x="151.00" y="373.00" width="4.00" height="1.00" fill="#fff" />
<rect x="151.00" y="379.00" width="3.00" height="1.00" fill="#fff" />
<rect x="151.00" y="385.00" width="3.00" height="1.00" fill="#fff" />
<rect x="154.00" y="373.00" width="1.00" height="17.00" fill="#fff" />
<rect x="168.00" y="372.00" width="6.00" height="19.00" fill="#000" />
<rect x="169.00" y="373.00" width="4.00" height="1.00" fill="#fff" />
<rect x="170.00" y="375.00" width="2.00" height="3.00" fill="#fff" />
<rect x="169.00" y="379.00" width="4.00" height="1.00" fill="#fff" />
<rect x="169.00" y="384.00" width="4.00" height="1.00" fill="#fff" />
<rect x="166.80" y="372.00" width="1.20" height="19.30" fill="#000" />
<rect x="184.00" y="372.00" width="6.00" height="19.00" fill="#000" />
<rect x="185.00" y="373.00" width="4.00" height="1.00" fill="#fff" />
<rect x="186.00" y="375.00" width="2.00" height="3.00" fill="#fff" />
<rect x="185.00" y="379.00" width="4.00" height="1.00" fill="#fff" />
<rect x="185.00" y="384.00" width="4.00" height="1.00" fill="#fff" />
<polygon points="35.82,39.04 40.69,39.08 41.20,38.09 45.38,38.17 46.89,38.05 48.95,37.34 50.46,36.87 53.57,36.73 53.43,43.73 50.34,43.47 48.85,42.94 46.81,42.15 45.31,41.97 41.13,41.89 40.65,40.88 35.78,40.74" fill="#000"/>
<polygon points="45.85,40.08 47.36,39.56 48.72,39.34 50.33,38.62 54.43,38.60 54.37,41.90 50.27,41.72 48.69,40.94 47.34,40.66" fill="#fff"/>
<rect x="51.40" y="31.60" width="41.10" height="17.60" rx="3.2" fill="#000"/>
<rect x="52.90" y="33.10" width="37.20" height="13.70" rx="2.0" fill="#fff"/>
<text transform="translate(70.82,44.30) scale(0.85,1)" text-anchor="middle" font-size="14" letter-spacing="1.1" fill="#000" font-weight="normal">JP26</text>
<polygon points="35.82,66.94 40.46,66.98 40.98,65.99 44.92,66.07 46.43,65.95 48.16,65.24 49.67,64.77 52.77,64.63 52.63,71.63 49.53,71.37 48.04,70.84 46.34,70.05 44.85,69.87 40.91,69.79 40.43,68.78 35.78,68.64" fill="#000"/>
<polygon points="45.38,67.98 46.89,67.46 47.92,67.24 49.53,66.52 53.63,66.50 53.57,69.80 49.47,69.62 47.88,68.83 46.87,68.56" fill="#fff"/>
<rect x="50.60" y="58.90" width="41.60" height="19.10" rx="3.2" fill="#000"/>
<rect x="52.10" y="60.40" width="37.70" height="15.20" rx="2.0" fill="#fff"/>
<text transform="translate(70.27,71.60) scale(0.85,1)" text-anchor="middle" font-size="14" letter-spacing="1.1" fill="#000" font-weight="normal">JP27</text>
<polygon points="35.82,121.54 40.69,121.58 41.20,120.59 45.38,120.67 46.89,120.55 48.95,119.84 50.46,119.37 53.57,119.23 53.43,126.23 50.34,125.97 48.85,125.44 46.81,124.65 45.31,124.47 41.13,124.39 40.65,123.38 35.78,123.24" fill="#000"/>
<polygon points="45.85,122.58 47.36,122.06 48.72,121.84 50.33,121.12 54.43,121.10 54.37,124.40 50.27,124.22 48.69,123.44 47.34,123.16" fill="#fff"/>
<rect x="51.40" y="113.40" width="25.50" height="18.10" rx="3.2" fill="#000"/>
<rect x="52.90" y="114.90" width="21.60" height="14.20" rx="2.0" fill="#fff"/>
<text transform="translate(63.62,126.10) scale(0.85,1)" text-anchor="middle" font-size="14" letter-spacing="1.1" fill="#000" font-weight="normal">J5</text>
<polygon points="35.82,149.44 40.38,149.48 40.90,148.49 44.75,148.57 46.25,148.46 47.86,147.74 49.37,147.27 52.47,147.13 52.33,154.13 49.23,153.87 47.74,153.34 46.17,152.55 44.67,152.37 40.82,152.29 40.34,151.28 35.78,151.14" fill="#000"/>
<polygon points="45.21,150.48 46.72,149.97 47.62,149.73 49.23,149.02 53.33,149.00 53.27,152.30 49.17,152.12 47.58,151.33 46.70,151.07" fill="#fff"/>
<rect x="50.30" y="141.10" width="25.30" height="18.20" rx="3.2" fill="#000"/>
<rect x="51.80" y="142.60" width="21.40" height="14.30" rx="2.0" fill="#fff"/>
<text transform="translate(62.42,153.80) scale(0.85,1)" text-anchor="middle" font-size="14" letter-spacing="1.1" fill="#000" font-weight="normal">J6</text>
<polygon points="35.82,175.64 40.38,175.68 40.90,174.69 44.75,174.77 46.25,174.66 47.86,173.94 49.37,173.47 52.47,173.33 52.33,180.33 49.23,180.07 47.74,179.54 46.17,178.75 44.67,178.57 40.82,178.49 40.34,177.48 35.78,177.34" fill="#000"/>
<polygon points="45.21,176.68 46.72,176.17 47.62,175.93 49.23,175.22 53.33,175.20 53.27,178.50 49.17,178.32 47.58,177.53 46.70,177.27" fill="#fff"/>
<rect x="50.30" y="167.60" width="25.30" height="17.70" rx="3.2" fill="#000"/>
<rect x="51.80" y="169.10" width="21.40" height="13.80" rx="2.0" fill="#fff"/>
<text transform="translate(62.72,180.30) scale(0.85,1)" text-anchor="middle" font-size="14" letter-spacing="1.1" fill="#000" font-weight="normal">J7</text>
<polygon points="35.82,198.74 40.38,198.78 40.90,197.79 44.75,197.87 46.25,197.76 47.86,197.04 49.37,196.57 52.47,196.43 52.33,203.43 49.23,203.17 47.74,202.64 46.17,201.85 44.67,201.67 40.82,201.59 40.34,200.58 35.78,200.44" fill="#000"/>
<polygon points="45.21,199.78 46.72,199.27 47.62,199.03 49.23,198.32 53.33,198.30 53.27,201.60 49.17,201.42 47.58,200.63 46.70,200.37" fill="#fff"/>
<rect x="50.30" y="191.40" width="48.50" height="18.00" rx="3.2" fill="#000"/>
<rect x="51.80" y="192.90" width="44.60" height="14.10" rx="2.0" fill="#fff"/>
<text transform="translate(75.02,204.10) scale(0.85,1)" text-anchor="middle" font-size="14" letter-spacing="1.1" fill="#000" font-weight="normal">FLASH</text>
<polygon points="35.82,221.54 40.30,221.58 40.82,220.59 44.58,220.67 46.08,220.56 47.56,219.84 49.07,219.37 52.17,219.23 52.03,226.23 48.93,225.97 47.44,225.44 45.99,224.66 44.50,224.47 40.74,224.39 40.26,223.38 35.78,223.24" fill="#000"/>
<polygon points="45.04,222.58 46.55,222.07 47.32,221.83 48.93,221.12 53.03,221.10 52.96,224.40 48.87,224.22 47.28,223.43 46.52,223.17" fill="#fff"/>
<rect x="50.00" y="214.30" width="48.80" height="17.10" rx="3.2" fill="#000"/>
<rect x="51.50" y="215.80" width="44.90" height="13.20" rx="2.0" fill="#fff"/>
<text transform="translate(74.27,227.00) scale(0.85,1)" text-anchor="middle" font-size="14" letter-spacing="1.1" fill="#000" font-weight="normal">STDBY</text>
<polygon points="36.52,246.04 41.36,246.08 41.88,245.09 46.03,245.17 47.53,245.05 49.55,244.34 51.06,243.87 54.17,243.73 54.03,250.73 50.94,250.47 49.45,249.94 47.45,249.15 45.95,248.97 41.80,248.89 41.32,247.88 36.48,247.74" fill="#000"/>
<polygon points="46.49,247.08 48.00,246.56 49.32,246.34 50.93,245.62 55.03,245.60 54.97,248.90 50.87,248.72 49.29,247.94 47.98,247.66" fill="#fff"/>
<rect x="52.00" y="238.60" width="25.50" height="16.70" rx="3.2" fill="#000"/>
<rect x="53.50" y="240.10" width="21.60" height="12.80" rx="2.0" fill="#fff"/>
<text transform="translate(63.62,251.30) scale(0.85,1)" text-anchor="middle" font-size="14" letter-spacing="1.1" fill="#000" font-weight="normal">J3</text>
<polygon points="35.82,267.84 40.69,267.88 41.20,266.89 45.38,266.97 46.89,266.85 48.95,266.14 50.46,265.67 53.57,265.53 53.43,272.53 50.34,272.27 48.85,271.74 46.81,270.95 45.31,270.77 41.13,270.69 40.65,269.68 35.78,269.54" fill="#000"/>
<polygon points="45.85,268.88 47.36,268.36 48.72,268.14 50.33,267.42 54.43,267.40 54.37,270.70 50.27,270.52 48.69,269.74 47.34,269.46" fill="#fff"/>
<rect x="51.40" y="260.50" width="25.40" height="16.50" rx="3.2" fill="#000"/>
<rect x="52.90" y="262.00" width="21.50" height="12.60" rx="2.0" fill="#fff"/>
<text transform="translate(62.97,273.20) scale(0.85,1)" text-anchor="middle" font-size="14" letter-spacing="1.1" fill="#000" font-weight="normal">J4</text>
<rect x="9.50" y="293.50" width="33.50" height="6.50" fill="#000" />
<polygon points="59.79,288.66 56.78,288.67 56.27,289.66 52.26,289.62 50.76,289.75 45.57,290.44 44.06,290.92 40.96,291.08 41.04,284.08 44.14,284.32 45.63,284.84 50.81,285.65 52.31,285.82 56.32,285.86 56.81,286.87 59.81,286.96" fill="#000"/>
<polygon points="51.79,287.71 50.28,288.24 45.79,288.44 44.18,289.17 40.08,289.22 40.12,285.92 44.22,286.07 45.81,286.84 50.29,287.14" fill="#fff"/>
<rect x="9.20" y="278.30" width="34.90" height="17.90" rx="3.2" fill="#000"/>
<rect x="10.70" y="280.00" width="31.00" height="14.10" rx="2.0" fill="#fff"/>
<text transform="translate(25.52,291.00) scale(0.85,1)" text-anchor="middle" font-size="14" letter-spacing="1.1" fill="#000" font-weight="normal">JP6</text>
<polygon points="57.79,307.26 54.83,307.27 54.32,308.26 50.39,308.22 48.89,308.35 43.87,309.04 42.36,309.52 39.26,309.68 39.34,302.68 42.44,302.92 43.93,303.44 48.94,304.25 50.44,304.42 54.36,304.46 54.85,305.47 57.81,305.56" fill="#000"/>
<polygon points="49.91,306.31 48.41,306.84 44.09,307.04 42.48,307.77 38.38,307.82 38.42,304.52 42.52,304.67 44.11,305.44 48.42,305.74" fill="#fff"/>
<rect x="8.20" y="297.80" width="34.20" height="16.80" rx="3.2" fill="#000"/>
<rect x="9.70" y="299.40" width="30.30" height="13.20" rx="2.0" fill="#fff"/>
<text transform="translate(24.17,310.50) scale(0.85,1)" text-anchor="middle" font-size="14" letter-spacing="1.1" fill="#000" font-weight="normal">JP7</text>
<polygon points="75.52,295.44 80.13,295.48 80.65,294.49 84.56,294.57 86.07,294.46 87.76,293.74 89.27,293.27 92.37,293.13 92.23,300.13 89.13,299.87 87.64,299.34 85.98,298.55 84.49,298.37 80.58,298.29 80.10,297.28 75.48,297.14" fill="#000"/>
<polygon points="85.03,296.48 86.54,295.96 87.52,295.73 89.13,295.02 93.23,295.00 93.17,298.30 89.07,298.12 87.48,297.33 86.51,297.06" fill="#fff"/>
<rect x="90.20" y="287.80" width="35.30" height="16.50" rx="3.2" fill="#000"/>
<rect x="91.70" y="289.30" width="31.40" height="12.60" rx="2.0" fill="#fff"/>
<text transform="translate(107.72,300.50) scale(0.85,1)" text-anchor="middle" font-size="14" letter-spacing="1.1" fill="#000" font-weight="normal">JP8</text>
<polygon points="122.82,93.04 127.63,93.08 128.15,92.09 132.27,92.17 133.77,92.05 135.76,91.34 137.26,90.87 140.37,90.73 140.23,97.73 137.14,97.47 135.65,96.94 133.69,96.15 132.19,95.97 128.07,95.89 127.59,94.88 122.78,94.74" fill="#000"/>
<polygon points="132.73,94.08 134.24,93.56 135.52,93.34 137.13,92.62 141.23,92.60 141.17,95.90 137.07,95.72 135.49,94.94 134.22,94.66" fill="#fff"/>
<rect x="138.20" y="84.20" width="41.50" height="18.20" rx="3.2" fill="#000"/>
<rect x="139.70" y="85.70" width="37.60" height="14.30" rx="2.0" fill="#fff"/>
<text transform="translate(157.82,96.90) scale(0.85,1)" text-anchor="middle" font-size="14" letter-spacing="1.1" fill="#000" font-weight="normal">JP24</text>
<polygon points="123.12,116.04 127.85,116.08 128.37,115.09 132.40,115.17 133.90,115.05 135.76,114.34 137.27,113.87 140.37,113.73 140.23,120.73 137.13,120.47 135.64,119.94 133.82,119.15 132.32,118.97 128.29,118.89 127.81,117.88 123.08,117.74" fill="#000"/>
<polygon points="132.86,117.08 134.37,116.56 135.52,116.34 137.13,115.62 141.23,115.60 141.17,118.90 137.07,118.72 135.48,117.94 134.35,117.66" fill="#fff"/>
<rect x="138.20" y="107.30" width="41.50" height="18.40" rx="3.2" fill="#000"/>
<rect x="139.70" y="108.80" width="37.60" height="14.50" rx="2.0" fill="#fff"/>
<text transform="translate(157.82,120.00) scale(0.85,1)" text-anchor="middle" font-size="14" letter-spacing="1.1" fill="#000" font-weight="normal">JP25</text>
<rect x="217.50" y="233.50" width="38.00" height="8.00" fill="#000" />
<rect x="216.50" y="252.50" width="38.50" height="7.50" fill="#000" />
<polygon points="272.89,230.16 269.85,230.17 269.34,231.16 265.28,231.12 263.78,231.25 258.47,231.94 256.96,232.42 253.86,232.58 253.94,225.58 257.04,225.82 258.53,226.34 263.83,227.15 265.32,227.32 269.39,227.36 269.88,228.37 272.91,228.46" fill="#000"/>
<polygon points="264.80,229.21 263.30,229.74 258.69,229.94 257.08,230.67 252.98,230.72 253.02,227.42 257.12,227.57 258.71,228.34 263.31,228.64" fill="#fff"/>
<rect x="216.20" y="219.20" width="40.80" height="18.30" rx="3.2" fill="#000"/>
<rect x="217.70" y="220.70" width="36.90" height="14.60" rx="2.0" fill="#fff"/>
<text transform="translate(235.47,231.90) scale(0.85,1)" text-anchor="middle" font-size="14" letter-spacing="1.1" fill="#000" font-weight="normal">JP21</text>
<polygon points="272.19,248.36 269.17,248.37 268.66,249.36 264.62,249.32 263.12,249.45 257.87,250.14 256.36,250.62 253.26,250.78 253.34,243.78 256.44,244.02 257.93,244.54 263.17,245.35 264.67,245.52 268.70,245.56 269.19,246.57 272.21,246.66" fill="#000"/>
<polygon points="264.14,247.41 262.64,247.94 258.09,248.14 256.48,248.87 252.38,248.92 252.42,245.62 256.52,245.77 258.11,246.54 262.65,246.84" fill="#fff"/>
<rect x="215.50" y="239.10" width="40.90" height="17.40" rx="3.2" fill="#000"/>
<rect x="217.00" y="240.60" width="37.00" height="13.50" rx="2.0" fill="#fff"/>
<text transform="translate(234.82,251.80) scale(0.85,1)" text-anchor="middle" font-size="14" letter-spacing="1.1" fill="#000" font-weight="normal">JP22</text>
<polygon points="272.19,267.26 269.12,267.27 268.61,268.26 264.50,268.22 262.99,268.35 257.57,269.03 256.06,269.52 252.96,269.68 253.04,262.68 256.14,262.92 257.63,263.44 263.04,264.25 264.54,264.42 268.66,264.46 269.15,265.47 272.21,265.56" fill="#000"/>
<polygon points="264.02,266.31 262.51,266.84 257.79,267.04 256.18,267.77 252.08,267.82 252.12,264.52 256.22,264.67 257.81,265.44 262.52,265.74" fill="#fff"/>
<rect x="214.50" y="257.50" width="41.60" height="18.20" rx="3.2" fill="#000"/>
<rect x="216.00" y="259.00" width="37.70" height="14.80" rx="2.0" fill="#fff"/>
<text transform="translate(234.17,270.20) scale(0.85,1)" text-anchor="middle" font-size="14" letter-spacing="1.1" fill="#000" font-weight="normal">JP23</text>
<polygon points="682.69,44.86 679.79,44.87 679.28,45.86 675.46,45.82 673.95,45.95 669.16,46.64 667.66,47.12 664.56,47.28 664.64,40.28 667.74,40.52 669.23,41.04 674.01,41.85 675.50,42.02 679.32,42.06 679.81,43.07 682.71,43.16" fill="#000"/>
<polygon points="674.98,43.91 673.47,44.44 669.39,44.64 667.78,45.37 663.68,45.42 663.72,42.12 667.82,42.27 669.41,43.04 673.49,43.34" fill="#fff"/>
<rect x="625.90" y="35.20" width="41.80" height="18.40" rx="3.2" fill="#000"/>
<rect x="627.40" y="36.70" width="37.90" height="14.50" rx="2.0" fill="#fff"/>
<text transform="translate(645.67,47.90) scale(0.85,1)" text-anchor="middle" font-size="14" letter-spacing="1.1" fill="#000" font-weight="normal">JP14</text>
<polygon points="675.89,138.26 672.85,138.27 672.34,139.26 668.28,139.22 666.78,139.35 661.47,140.04 659.96,140.52 656.86,140.68 656.94,133.68 660.04,133.92 661.53,134.44 666.83,135.25 668.32,135.42 672.39,135.46 672.88,136.47 675.91,136.56" fill="#000"/>
<polygon points="667.80,137.31 666.30,137.84 661.69,138.04 660.08,138.77 655.98,138.82 656.02,135.52 660.12,135.67 661.71,136.44 666.31,136.74" fill="#fff"/>
<rect x="618.20" y="128.20" width="41.80" height="18.50" rx="3.2" fill="#000"/>
<rect x="619.70" y="129.70" width="37.90" height="14.60" rx="2.0" fill="#fff"/>
<text transform="translate(637.97,140.90) scale(0.85,1)" text-anchor="middle" font-size="14" letter-spacing="1.1" fill="#000" font-weight="normal">JP12</text>
<rect x="636.50" y="300.50" width="32.00" height="9.00" fill="#000" />
<polygon points="685.89,298.06 682.82,298.07 682.31,299.06 678.20,299.02 676.69,299.15 671.27,299.83 669.76,300.32 666.66,300.48 666.74,293.48 669.84,293.72 671.33,294.24 676.74,295.05 678.24,295.22 682.36,295.26 682.85,296.27 685.91,296.36" fill="#000"/>
<polygon points="677.72,297.11 676.21,297.64 671.49,297.84 669.88,298.57 665.78,298.62 665.82,295.32 669.92,295.47 671.51,296.24 676.22,296.54" fill="#fff"/>
<rect x="635.20" y="287.30" width="34.60" height="16.70" rx="3.2" fill="#000"/>
<rect x="636.70" y="288.80" width="30.70" height="13.20" rx="2.0" fill="#fff"/>
<text transform="translate(650.37,300.00) scale(0.85,1)" text-anchor="middle" font-size="14" letter-spacing="1.1" fill="#000" font-weight="normal">JP1</text>
<polygon points="685.89,315.66 682.82,315.67 682.31,316.66 678.20,316.62 676.69,316.75 671.27,317.43 669.76,317.92 666.66,318.08 666.74,311.08 669.84,311.32 671.33,311.84 676.74,312.65 678.24,312.82 682.36,312.86 682.85,313.87 685.91,313.96" fill="#000"/>
<polygon points="677.72,314.71 676.21,315.24 671.49,315.44 669.88,316.17 665.78,316.22 665.82,312.92 669.92,313.07 671.51,313.84 676.22,314.14" fill="#fff"/>
<rect x="633.20" y="307.40" width="36.60" height="17.20" rx="3.2" fill="#000"/>
<rect x="634.70" y="309.00" width="32.70" height="13.40" rx="2.0" fill="#fff"/>
<text transform="translate(650.37,320.10) scale(0.85,1)" text-anchor="middle" font-size="14" letter-spacing="1.1" fill="#000" font-weight="normal">JP2</text>
<polygon points="319.72,318.44 324.61,318.48 325.13,317.49 329.34,317.57 330.84,317.45 332.95,316.74 334.46,316.27 337.57,316.13 337.43,323.13 334.34,322.87 332.85,322.34 330.77,321.55 329.27,321.37 325.06,321.29 324.58,320.28 319.68,320.14" fill="#000"/>
<polygon points="329.81,319.48 331.32,318.96 332.72,318.74 334.33,318.02 338.43,318.00 338.37,321.30 334.27,321.12 332.69,320.34 331.30,320.06" fill="#fff"/>
<rect x="335.40" y="310.40" width="41.50" height="18.20" rx="3.2" fill="#000"/>
<rect x="336.90" y="311.90" width="37.60" height="14.30" rx="2.0" fill="#fff"/>
<text transform="translate(355.02,323.10) scale(0.85,1)" text-anchor="middle" font-size="14" letter-spacing="1.1" fill="#000" font-weight="normal">JP10</text>
<polygon points="115.09,381.46 111.98,381.47 111.47,382.46 107.27,382.42 105.77,382.55 100.17,383.23 98.66,383.72 95.56,383.88 95.64,376.88 98.74,377.12 100.23,377.63 105.82,378.45 107.31,378.62 111.51,378.66 112.00,379.67 115.11,379.76" fill="#000"/>
<polygon points="106.79,380.51 105.29,381.04 100.39,381.24 98.78,381.97 94.68,382.02 94.72,378.72 98.82,378.87 100.41,379.64 105.30,379.94" fill="#fff"/>
<rect x="63.20" y="372.80" width="35.50" height="16.80" rx="3.2" fill="#000"/>
<rect x="64.70" y="374.30" width="31.60" height="12.90" rx="2.0" fill="#fff"/>
<text transform="translate(80.72,385.50) scale(0.85,1)" text-anchor="middle" font-size="14" letter-spacing="1.1" fill="#000" font-weight="normal">SR1</text>
<polygon points="685.84,160.49 685.95,165.41 687.06,165.90 687.16,174.78 687.32,176.28 687.97,175.67 687.78,177.17 688.02,180.27 682.42,180.33 682.58,177.23 682.37,175.73 683.02,176.33 683.16,174.83 683.06,165.95 684.15,165.44 684.14,160.51" fill="#000"/>
<polygon points="685.16,175.31 685.73,176.80 685.96,175.49 686.03,177.09 686.18,181.19 684.28,181.21 684.33,177.11 684.36,175.51 684.63,176.81" fill="#fff"/>
<rect x="664.30" y="178.20" width="42.70" height="18.50" rx="3.2" fill="#000"/>
<rect x="665.80" y="179.70" width="38.80" height="14.60" rx="2.0" fill="#fff"/>
<text transform="translate(684.52,190.90) scale(0.85,1)" text-anchor="middle" font-size="14" letter-spacing="1.1" fill="#000" font-weight="normal">JP13</text>
<polygon points="681.34,453.99 681.45,459.04 682.56,459.53 682.66,468.67 682.82,470.17 683.47,469.67 683.28,471.17 683.52,474.27 677.92,474.33 678.08,471.23 677.87,469.73 678.52,470.22 678.66,468.72 678.56,459.57 679.65,459.06 679.64,454.01" fill="#000"/>
<polygon points="680.66,469.20 681.23,470.69 681.46,469.49 681.53,471.09 681.68,475.19 679.78,475.21 679.83,471.11 679.86,469.51 680.13,470.70" fill="#fff"/>
<rect x="659.20" y="472.20" width="42.80" height="18.40" rx="3.2" fill="#000"/>
<rect x="660.70" y="473.70" width="38.90" height="14.50" rx="2.0" fill="#fff"/>
<text transform="translate(679.47,484.90) scale(0.85,1)" text-anchor="middle" font-size="14" letter-spacing="1.1" fill="#000" font-weight="normal">JP28</text>
<polygon points="301.44,329.49 301.55,334.29 302.66,334.78 302.76,343.39 302.92,344.89 303.56,344.17 303.38,345.67 303.62,348.77 298.02,348.83 298.18,345.73 297.97,344.23 298.62,344.94 298.76,343.44 298.66,334.82 299.75,334.31 299.74,329.51" fill="#000"/>
<polygon points="300.76,343.92 301.33,345.41 301.56,343.99 301.63,345.59 301.78,349.69 299.88,349.71 299.93,345.61 299.96,344.01 300.23,345.42" fill="#fff"/>
<rect x="280.40" y="346.70" width="42.10" height="17.60" rx="3.2" fill="#000"/>
<rect x="281.90" y="348.20" width="38.20" height="13.70" rx="2.0" fill="#fff"/>
<text transform="translate(300.32,359.40) scale(0.85,1)" text-anchor="middle" font-size="14" letter-spacing="1.1" fill="#000" font-weight="normal">JP11</text>
<polygon points="152.34,372.48 152.41,367.08 151.42,366.56 151.53,361.81 151.42,360.30 150.73,357.44 149.97,355.92 149.84,352.81 157.44,352.99 157.16,356.08 156.33,357.56 155.52,360.40 155.33,361.89 155.22,366.64 154.21,367.12 154.04,372.52" fill="#000"/>
<polygon points="153.44,361.35 152.93,359.84 152.73,357.68 151.71,356.06 151.71,351.96 155.61,352.05 155.41,356.14 154.33,357.72 154.03,359.86" fill="#fff"/>
<rect x="137.60" y="338.40" width="32.40" height="17.60" rx="3.2" fill="#000"/>
<rect x="139.10" y="339.90" width="28.50" height="13.70" rx="2.0" fill="#fff"/>
<text transform="translate(152.67,351.10) scale(0.85,1)" text-anchor="middle" font-size="14" letter-spacing="1.1" fill="#000" font-weight="normal">SR3</text>
<polygon points="186.54,372.48 186.61,366.86 185.62,366.33 185.73,361.34 185.62,359.84 184.94,356.64 184.17,355.12 184.04,352.02 191.63,352.18 191.37,355.28 190.53,356.76 189.71,359.93 189.53,361.43 189.42,366.42 188.41,366.90 188.24,372.52" fill="#000"/>
<polygon points="187.64,360.89 187.13,359.37 186.93,356.88 185.92,355.26 185.91,351.16 189.80,351.24 189.61,355.34 188.53,356.92 188.23,359.40" fill="#fff"/>
<rect x="172.00" y="337.00" width="32.70" height="18.20" rx="3.2" fill="#000"/>
<rect x="173.50" y="339.60" width="28.80" height="13.20" rx="2.0" fill="#fff"/>
<text transform="translate(187.22,350.30) scale(0.85,1)" text-anchor="middle" font-size="14" letter-spacing="1.1" fill="#000" font-weight="normal">SR5</text>
<path d="M136.8 391.5 L135.4 394.6 L131 397.2" fill="none" stroke="#000" stroke-width="2.0"/>
<path d="M169.4 390.5 L172.3 394.4 L177 395.8" fill="none" stroke="#000" stroke-width="2.6"/>
<rect x="100.40" y="395.90" width="33.00" height="16.80" rx="3.2" fill="#000"/>
<rect x="101.90" y="397.40" width="29.10" height="12.90" rx="2.0" fill="#fff"/>
<text transform="translate(116.77,408.60) scale(0.85,1)" text-anchor="middle" font-size="14" letter-spacing="1.1" fill="#000" font-weight="normal">SR2</text>
<rect x="173.70" y="394.60" width="33.00" height="16.20" rx="3.2" fill="#000"/>
<rect x="175.20" y="396.10" width="29.10" height="12.30" rx="2.0" fill="#fff"/>
<text transform="translate(189.97,407.30) scale(0.85,1)" text-anchor="middle" font-size="14" letter-spacing="1.1" fill="#000" font-weight="normal">SR4</text>
<rect x="673.9" y="333.7" width="32.5" height="19.3" rx="4.5" fill="#000"/>
<rect x="676.8" y="337" width="29.2" height="13.9" rx="2.5" fill="#fff"/>
<text transform="translate(690.57,348.10) scale(0.85,1)" text-anchor="middle" font-size="14" letter-spacing="1.1" fill="#000" font-weight="normal">J11</text>
<rect x="157.20" y="17.00" width="33.80" height="19.00" fill="#000" />
<rect x="157.20" y="62.00" width="33.80" height="18.00" fill="#000" />
<rect x="161.40" y="61.20" width="25.10" height="1.30" fill="#000" />
<rect x="158.90" y="18.70" width="29.00" height="14.80" rx="3" fill="#fff"/>
<text transform="translate(173.87,30.93) scale(0.85,1)" text-anchor="middle" font-size="14" letter-spacing="1.1" fill="#000" font-weight="normal">SL1</text>
<rect x="159.60" y="63.50" width="28.40" height="14.50" rx="1.5" fill="#fff"/>
<text transform="translate(173.07,75.58) scale(0.85,1)" text-anchor="middle" font-size="14" letter-spacing="1.1" fill="#000" font-weight="normal">SL2</text>
<rect x="146.00" y="176.20" width="32.80" height="17.30" rx="3.2" fill="#000"/>
<rect x="147.50" y="177.70" width="28.90" height="13.40" rx="2.0" fill="#fff"/>
<text transform="translate(162.06,188.90) scale(0.85,1)" text-anchor="middle" font-size="14" letter-spacing="1.8" fill="#000" font-weight="normal">CPU</text>
<rect x="645.00" y="232.60" width="44.20" height="16.40" rx="1" fill="#000"/>
<rect x="646.10" y="233.70" width="42.00" height="14.20" rx="0.30000000000000004" fill="#fff"/>
<text transform="translate(667.95,245.63) scale(0.85,1)" text-anchor="middle" font-size="14" letter-spacing="2.0" fill="#000" font-weight="normal">BIOS</text>
<rect x="74.90" y="340.30" width="31.50" height="19.90" rx="3.2" fill="#000"/>
<rect x="76.40" y="341.80" width="27.60" height="16.00" rx="2.0" fill="#fff"/>
<text transform="translate(89.52,353.00) scale(0.85,1)" text-anchor="middle" font-size="14" letter-spacing="1.1" fill="#000" font-weight="normal">TAG</text>
<rect x="119.80" y="419.30" width="48.50" height="17.20" rx="2.6" fill="#000"/>
<rect x="121.30" y="420.80" width="44.60" height="14.20" rx="1.4000000000000001" fill="#fff"/>
<text transform="translate(143.50,432.00) scale(0.85,1)" text-anchor="middle" font-size="14" letter-spacing="1.3" fill="#000" font-weight="normal">CACHE</text>
<rect x="71.80" y="449.50" width="55.60" height="14.70" rx="0.5" fill="#000"/>
<rect x="72.30" y="450.00" width="54.60" height="13.70" rx="0" fill="#fff"/>
<text transform="translate(99.72,460.78) scale(0.85,1)" text-anchor="middle" font-size="14" letter-spacing="1.0" fill="#000" font-weight="normal">BANK 1</text>
<rect x="161.20" y="449.80" width="56.30" height="14.80" rx="0.5" fill="#000"/>
<rect x="161.70" y="450.30" width="55.30" height="13.80" rx="0" fill="#fff"/>
<text transform="translate(189.18,461.13) scale(0.85,1)" text-anchor="middle" font-size="14" letter-spacing="1.0" fill="#000" font-weight="normal">BANK 0</text>
<rect x="442.30" y="384.40" width="58.40" height="16.50" rx="3.2" fill="#000"/>
<rect x="443.80" y="385.90" width="54.50" height="12.60" rx="2.0" fill="#fff"/>
<text transform="translate(471.52,397.10) scale(0.85,1)" text-anchor="middle" font-size="14" letter-spacing="1.0" fill="#000" font-weight="normal">BANK 0</text>
<rect x="445.30" y="472.80" width="56.60" height="16.50" rx="3.2" fill="#000"/>
<rect x="446.80" y="474.30" width="52.70" height="12.60" rx="2.0" fill="#fff"/>
<text transform="translate(472.43,485.50) scale(0.85,1)" text-anchor="middle" font-size="14" letter-spacing="1.0" fill="#000" font-weight="normal">BANK 1</text>
</svg>
</body></html>
